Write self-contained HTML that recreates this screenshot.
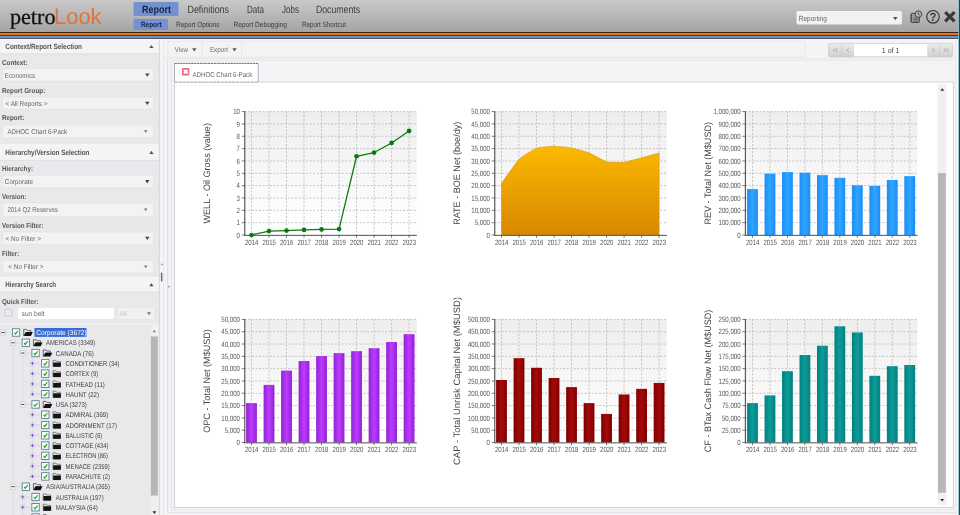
<!DOCTYPE html>
<html lang="en"><head><meta charset="utf-8"><title>petroLook - Report</title>
<style>
html,body{margin:0;padding:0;background:#f3f3f5;overflow:hidden;font-family:"Liberation Sans",sans-serif}
svg{display:block;position:absolute;left:0;top:0;will-change:transform}
</style></head><body>
<svg width="960" height="515" viewBox="0 0 960 515" text-rendering="geometricPrecision">
<defs>
<linearGradient id="hdr" x1="0" y1="0" x2="0" y2="1"><stop offset="0" stop-color="#c9c9c9"/><stop offset="1" stop-color="#a4a4a4"/></linearGradient>
<linearGradient id="plot" x1="0" y1="0" x2="0" y2="1"><stop offset="0" stop-color="#eeeeee"/><stop offset="0.82" stop-color="#fdfdfd"/><stop offset="1" stop-color="#ffffff"/></linearGradient>
<linearGradient id="area" x1="0" y1="0" x2="0" y2="1"><stop offset="0" stop-color="#fbb900"/><stop offset="1" stop-color="#d88800"/></linearGradient>
<linearGradient id="gblue" x1="0" y1="0" x2="1" y2="0"><stop offset="0" stop-color="#1c8cf8"/><stop offset="0.5" stop-color="#2ea6ff"/><stop offset="1" stop-color="#1c8cf8"/></linearGradient>
<linearGradient id="gpurple" x1="0" y1="0" x2="1" y2="0"><stop offset="0" stop-color="#9420d4"/><stop offset="0.5" stop-color="#ba3cff"/><stop offset="1" stop-color="#9420d4"/></linearGradient>
<linearGradient id="gred" x1="0" y1="0" x2="1" y2="0"><stop offset="0" stop-color="#800000"/><stop offset="0.5" stop-color="#a40a0a"/><stop offset="1" stop-color="#800000"/></linearGradient>
<linearGradient id="gteal" x1="0" y1="0" x2="1" y2="0"><stop offset="0" stop-color="#008080"/><stop offset="0.5" stop-color="#0d9c98"/><stop offset="1" stop-color="#008080"/></linearGradient>
<linearGradient id="btn" x1="0" y1="0" x2="0" y2="1"><stop offset="0" stop-color="#ececec"/><stop offset="1" stop-color="#cfcfcf"/></linearGradient>
</defs>
<rect x="0.00" y="0.00" width="960.00" height="515.00" fill="#f3f3f5" />
<rect x="0.00" y="0.00" width="960.00" height="32.00" fill="url(#hdr)" />
<rect x="0.00" y="32.00" width="960.00" height="1.00" fill="#47200a" />
<rect x="0.00" y="33.00" width="960.00" height="2.00" fill="#da7a22" />
<rect x="0.00" y="35.00" width="960.00" height="1.00" fill="#3a3a48" />
<rect x="0.00" y="36.00" width="960.00" height="2.00" fill="#7090c8" />
<rect x="0.00" y="38.00" width="960.00" height="1.00" fill="#52566a" />
<rect x="0.00" y="39.00" width="960.00" height="1.00" fill="#fafafb" />
<text x="9.90" y="23.50" font-family="Liberation Serif, serif" font-size="22" fill="#111" text-anchor="start" textLength="45.60" lengthAdjust="spacingAndGlyphs" stroke="#111" stroke-width="0.3">petro</text>
<text x="54.00" y="23.50" font-family="Liberation Sans, sans-serif" font-size="22.5" fill="#e2733a" text-anchor="start" textLength="47.60" lengthAdjust="spacingAndGlyphs" >Look</text>
<rect x="133.50" y="2.00" width="45.00" height="14.00" fill="#7191d2" rx="1.5" />
<text x="142.00" y="13.08" font-family="Liberation Sans, sans-serif" font-size="10.5" font-weight="bold" fill="#1c2340" text-anchor="start" textLength="29.00" lengthAdjust="spacingAndGlyphs" >Report</text>
<text x="187.50" y="13.08" font-family="Liberation Sans, sans-serif" font-size="10.5" fill="#3c3c3c" text-anchor="start" textLength="41.50" lengthAdjust="spacingAndGlyphs" >Definitions</text>
<text x="247.00" y="13.08" font-family="Liberation Sans, sans-serif" font-size="10.5" fill="#3c3c3c" text-anchor="start" textLength="17.00" lengthAdjust="spacingAndGlyphs" >Data</text>
<text x="282.00" y="13.08" font-family="Liberation Sans, sans-serif" font-size="10.5" fill="#3c3c3c" text-anchor="start" textLength="17.00" lengthAdjust="spacingAndGlyphs" >Jobs</text>
<text x="316.00" y="13.08" font-family="Liberation Sans, sans-serif" font-size="10.5" fill="#3c3c3c" text-anchor="start" textLength="44.00" lengthAdjust="spacingAndGlyphs" >Documents</text>
<rect x="133.50" y="18.80" width="34.50" height="11.20" fill="#7191d2" rx="1.5" />
<text x="141.00" y="27.40" font-family="Liberation Sans, sans-serif" font-size="7.5" font-weight="bold" fill="#1c2340" text-anchor="start" textLength="20.50" lengthAdjust="spacingAndGlyphs" >Report</text>
<text x="176.00" y="27.40" font-family="Liberation Sans, sans-serif" font-size="7.5" fill="#3a3a3a" text-anchor="start" textLength="43.40" lengthAdjust="spacingAndGlyphs" >Report Options</text>
<text x="233.50" y="27.40" font-family="Liberation Sans, sans-serif" font-size="7.5" fill="#3a3a3a" text-anchor="start" textLength="53.50" lengthAdjust="spacingAndGlyphs" >Report Debugging</text>
<text x="302.00" y="27.40" font-family="Liberation Sans, sans-serif" font-size="7.5" fill="#3a3a3a" text-anchor="start" textLength="44.00" lengthAdjust="spacingAndGlyphs" >Report Shortcut</text>
<rect x="796.50" y="10.90" width="105.40" height="13.50" fill="#f2f2f4" rx="1.5" />
<text x="798.80" y="21.10" font-family="Liberation Sans, sans-serif" font-size="7.5" fill="#666" text-anchor="start" textLength="28.20" lengthAdjust="spacingAndGlyphs" >Reporting</text>
<path d="M893.10 16.95L897.50 16.95L895.30 20.25Z" fill="#505050"/>
<g stroke="#404040" stroke-width="0.9"><rect x="911.2" y="13.4" width="8.2" height="9.1" rx="0.8" fill="#9c9c9c"/><path d="M910.0 15.2h2M910.0 17.2h2M910.0 19.2h2M910.0 21.2h2" stroke-width="0.8" fill="none"/><path d="M913.2 18.0h5.2M913.2 19.6h5.2M913.2 21.2h5.2" stroke-width="0.7" stroke="#555" fill="none"/></g>
<circle cx="918.4" cy="14.1" r="3.3" fill="#b8b8b8" stroke="#3c3c3c" stroke-width="0.95"/>
<path d="M918.4 12.2v2.1l1.4 0.9" fill="none" stroke="#333" stroke-width="0.85"/>
<circle cx="933.0" cy="16.8" r="6.3" fill="none" stroke="#333" stroke-width="1.15"/>
<text x="933.00" y="21.15" font-family="Liberation Sans, sans-serif" font-size="11.8" font-weight="bold" fill="#333" text-anchor="middle" textLength="6.85" lengthAdjust="spacingAndGlyphs" >?</text>
<path d="M945.2 12.1L954.5 21.4M954.5 12.1L945.2 21.4" stroke="#3a3a3a" stroke-width="3.3" stroke-linecap="butt"/>
<rect x="0.00" y="39.60" width="159.40" height="475.40" fill="#e9e9eb" />
<rect x="0.00" y="39.60" width="159.40" height="14.20" fill="#f4f4f6" />
<line x1="0.00" y1="53.80" x2="159.40" y2="53.80" stroke="#dcdce0" stroke-width="0.8" />
<line x1="0.00" y1="39.60" x2="159.40" y2="39.60" stroke="#fbfbfc" stroke-width="0.8" />
<text x="5.30" y="48.89" font-family="Liberation Sans, sans-serif" font-size="7.6" font-weight="bold" fill="#555" text-anchor="start" textLength="76.70" lengthAdjust="spacingAndGlyphs" >Context/Report Selection</text>
<path d="M149.30 48.10L153.50 48.10L151.40 44.90Z" fill="#555"/>
<text x="2.00" y="64.79" font-family="Liberation Sans, sans-serif" font-size="7.2" font-weight="bold" fill="#555" text-anchor="start" textLength="25.50" lengthAdjust="spacingAndGlyphs" >Context:</text>
<rect x="2.70" y="68.80" width="151.00" height="12.40" fill="#f3f3f5" stroke="#e1e1e4" stroke-width="0.6" rx="1.2" />
<text x="4.80" y="77.62" font-family="Liberation Sans, sans-serif" font-size="7.0" fill="#666" text-anchor="start" textLength="30.30" lengthAdjust="spacingAndGlyphs" >Economics</text>
<path d="M145.10 73.55L149.50 73.55L147.30 76.85Z" fill="#444"/>
<text x="2.00" y="92.59" font-family="Liberation Sans, sans-serif" font-size="7.2" font-weight="bold" fill="#555" text-anchor="start" textLength="43.30" lengthAdjust="spacingAndGlyphs" >Report Group:</text>
<rect x="2.70" y="97.00" width="151.00" height="12.20" fill="#f3f3f5" stroke="#e1e1e4" stroke-width="0.6" rx="1.2" />
<text x="5.50" y="105.72" font-family="Liberation Sans, sans-serif" font-size="7.0" fill="#666" text-anchor="start" textLength="42.00" lengthAdjust="spacingAndGlyphs" >&lt; All Reports &gt;</text>
<path d="M145.10 101.65L149.50 101.65L147.30 104.95Z" fill="#444"/>
<text x="2.00" y="120.39" font-family="Liberation Sans, sans-serif" font-size="7.2" font-weight="bold" fill="#555" text-anchor="start" textLength="22.30" lengthAdjust="spacingAndGlyphs" >Report:</text>
<rect x="2.70" y="125.00" width="151.00" height="13.00" fill="#f3f3f5" stroke="#e1e1e4" stroke-width="0.6" rx="1.2" />
<text x="7.40" y="134.12" font-family="Liberation Sans, sans-serif" font-size="7.0" fill="#666" text-anchor="start" textLength="59.60" lengthAdjust="spacingAndGlyphs" >ADHOC Chart 6-Pack</text>
<path d="M143.90 130.35L147.50 130.35L145.70 133.05Z" fill="#777"/>
<rect x="0.00" y="144.80" width="159.40" height="15.60" fill="#f4f4f6" />
<line x1="0.00" y1="160.40" x2="159.40" y2="160.40" stroke="#dcdce0" stroke-width="0.8" />
<line x1="0.00" y1="144.80" x2="159.40" y2="144.80" stroke="#fbfbfc" stroke-width="0.8" />
<text x="5.30" y="154.79" font-family="Liberation Sans, sans-serif" font-size="7.6" font-weight="bold" fill="#555" text-anchor="start" textLength="84.20" lengthAdjust="spacingAndGlyphs" >Hierarchy/Version Selection</text>
<path d="M149.30 154.00L153.50 154.00L151.40 150.80Z" fill="#555"/>
<text x="2.00" y="170.79" font-family="Liberation Sans, sans-serif" font-size="7.2" font-weight="bold" fill="#555" text-anchor="start" textLength="31.00" lengthAdjust="spacingAndGlyphs" >Hierarchy:</text>
<rect x="2.70" y="175.30" width="151.00" height="12.50" fill="#f3f3f5" stroke="#e1e1e4" stroke-width="0.6" rx="1.2" />
<text x="4.80" y="184.17" font-family="Liberation Sans, sans-serif" font-size="7.0" fill="#666" text-anchor="start" textLength="28.30" lengthAdjust="spacingAndGlyphs" >Corporate</text>
<path d="M145.10 180.10L149.50 180.10L147.30 183.40Z" fill="#444"/>
<text x="2.00" y="199.09" font-family="Liberation Sans, sans-serif" font-size="7.2" font-weight="bold" fill="#555" text-anchor="start" textLength="24.30" lengthAdjust="spacingAndGlyphs" >Version:</text>
<rect x="2.70" y="202.90" width="151.00" height="13.60" fill="#f3f3f5" stroke="#e1e1e4" stroke-width="0.6" rx="1.2" />
<text x="7.40" y="212.32" font-family="Liberation Sans, sans-serif" font-size="7.0" fill="#666" text-anchor="start" textLength="50.40" lengthAdjust="spacingAndGlyphs" >2014 Q2 Reserves</text>
<path d="M143.90 208.55L147.50 208.55L145.70 211.25Z" fill="#777"/>
<text x="2.00" y="227.99" font-family="Liberation Sans, sans-serif" font-size="7.2" font-weight="bold" fill="#555" text-anchor="start" textLength="41.60" lengthAdjust="spacingAndGlyphs" >Version Filter:</text>
<rect x="2.70" y="232.00" width="151.00" height="12.30" fill="#f3f3f5" stroke="#e1e1e4" stroke-width="0.6" rx="1.2" />
<text x="5.50" y="240.77" font-family="Liberation Sans, sans-serif" font-size="7.0" fill="#666" text-anchor="start" textLength="35.40" lengthAdjust="spacingAndGlyphs" >&lt; No Filter &gt;</text>
<path d="M145.10 236.70L149.50 236.70L147.30 240.00Z" fill="#444"/>
<text x="2.00" y="255.79" font-family="Liberation Sans, sans-serif" font-size="7.2" font-weight="bold" fill="#555" text-anchor="start" textLength="17.20" lengthAdjust="spacingAndGlyphs" >Filter:</text>
<rect x="2.70" y="260.30" width="151.00" height="12.90" fill="#f3f3f5" stroke="#e1e1e4" stroke-width="0.6" rx="1.2" />
<text x="8.20" y="269.37" font-family="Liberation Sans, sans-serif" font-size="7.0" fill="#666" text-anchor="start" textLength="35.40" lengthAdjust="spacingAndGlyphs" >&lt; No Filter &gt;</text>
<path d="M143.90 265.60L147.50 265.60L145.70 268.30Z" fill="#777"/>
<rect x="0.00" y="277.60" width="159.40" height="14.40" fill="#f4f4f6" />
<line x1="0.00" y1="292.00" x2="159.40" y2="292.00" stroke="#dcdce0" stroke-width="0.8" />
<line x1="0.00" y1="277.60" x2="159.40" y2="277.60" stroke="#fbfbfc" stroke-width="0.8" />
<text x="5.30" y="286.99" font-family="Liberation Sans, sans-serif" font-size="7.6" font-weight="bold" fill="#555" text-anchor="start" textLength="50.80" lengthAdjust="spacingAndGlyphs" >Hierarchy Search</text>
<path d="M149.30 286.20L153.50 286.20L151.40 283.00Z" fill="#555"/>
<text x="2.00" y="303.59" font-family="Liberation Sans, sans-serif" font-size="7.2" font-weight="bold" fill="#555" text-anchor="start" textLength="36.50" lengthAdjust="spacingAndGlyphs" >Quick Filter:</text>
<rect x="4.60" y="309.20" width="7.20" height="7.00" fill="#ececee" stroke="#c2c2c6" stroke-width="0.8" rx="1.2" />
<rect x="17.70" y="307.50" width="96.60" height="11.80" fill="#ffffff" stroke="#e4e4e8" stroke-width="0.6" rx="1.2" />
<text x="21.60" y="315.92" font-family="Liberation Sans, sans-serif" font-size="7.0" fill="#666" text-anchor="start" textLength="23.00" lengthAdjust="spacingAndGlyphs" >sun belt</text>
<rect x="117.40" y="307.50" width="37.30" height="11.80" fill="#f1f1f3" stroke="#e1e1e4" stroke-width="0.6" rx="1.2" />
<text x="119.60" y="315.92" font-family="Liberation Sans, sans-serif" font-size="7.0" fill="#c4c4c8" text-anchor="start" textLength="7.20" lengthAdjust="spacingAndGlyphs" >All</text>
<path d="M147.00 312.20L151.00 312.20L149.00 315.20Z" fill="#777"/>
<line x1="0.00" y1="324.40" x2="159.40" y2="324.40" stroke="#f3f3f5" stroke-width="1.0" />
<rect x="150.50" y="325.70" width="8.40" height="189.30" fill="#f0f0f0" />
<rect x="150.80" y="336.40" width="7.00" height="159.20" fill="#b6b6b6" />
<path d="M152.50 332.20L156.10 332.20L154.30 329.80Z" fill="#8a8a8a"/>
<path d="M152.40 511.30L156.40 511.30L154.40 513.90Z" fill="#333"/>
<line x1="12.95" y1="345.28" x2="12.95" y2="515.00" stroke="#d8d8de" stroke-width="0.8" />
<line x1="22.70" y1="355.56" x2="22.70" y2="401.96" stroke="#d8d8de" stroke-width="0.8" />
<line x1="22.70" y1="491.98" x2="22.70" y2="515.00" stroke="#d8d8de" stroke-width="0.8" />
<line x1="32.45" y1="358.34" x2="32.45" y2="394.18" stroke="#d8d8de" stroke-width="0.8" />
<line x1="32.45" y1="409.74" x2="32.45" y2="476.42" stroke="#d8d8de" stroke-width="0.8" />
<clipPath id="treeclip"><rect x="0" y="325.7" width="150.5" height="189.3"/></clipPath><g clip-path="url(#treeclip)">
<line x1="5.80" y1="332.50" x2="10.80" y2="332.50" stroke="#d2d2d8" stroke-width="0.8" />
<rect x="0.60" y="329.90" width="5.20" height="5.20" fill="#f6f6f6" stroke="#c6c6c6" stroke-width="0.7" rx="0.5" />
<line x1="1.60" y1="332.50" x2="4.80" y2="332.50" stroke="#444" stroke-width="1.0" />
<rect x="12.40" y="328.80" width="7.30" height="7.40" fill="#ffffff" stroke="#4a6c8c" stroke-width="0.8" />
<path d="M14.30 332.70L15.50 334.10L18.00 330.80" fill="none" stroke="#22aa22" stroke-width="1.25"/>
<path d="M23.70 335.80V329.40h2.9l0.9 1.1h3.3v2.0H25.80L23.70 335.80Z" fill="#e4e4e4" stroke="#3a3a3a" stroke-width="0.7" stroke-linejoin="round"/>
<path d="M23.90 336.00L25.90 332.10H32.80L30.90 336.00Z" fill="#111"/>
<rect x="34.50" y="328.00" width="52.00" height="8.90" fill="#3a6cd8" />
<text x="36.30" y="335.12" font-family="Liberation Sans, sans-serif" font-size="7.0" fill="#ffffff" text-anchor="start" textLength="50.40" lengthAdjust="spacingAndGlyphs" >Corporate (3672)</text>
<line x1="15.55" y1="342.78" x2="20.55" y2="342.78" stroke="#d2d2d8" stroke-width="0.8" />
<rect x="10.35" y="340.18" width="5.20" height="5.20" fill="#f6f6f6" stroke="#c6c6c6" stroke-width="0.7" rx="0.5" />
<line x1="11.35" y1="342.78" x2="14.55" y2="342.78" stroke="#444" stroke-width="1.0" />
<rect x="22.15" y="339.08" width="7.30" height="7.40" fill="#ffffff" stroke="#4a6c8c" stroke-width="0.8" />
<path d="M24.05 342.98L25.25 344.38L27.75 341.08" fill="none" stroke="#22aa22" stroke-width="1.25"/>
<path d="M33.45 346.08V339.68h2.9l0.9 1.1h3.3v2.0H35.55L33.45 346.08Z" fill="#e4e4e4" stroke="#3a3a3a" stroke-width="0.7" stroke-linejoin="round"/>
<path d="M33.65 346.28L35.65 342.38H42.55L40.65 346.28Z" fill="#111"/>
<text x="46.05" y="345.40" font-family="Liberation Sans, sans-serif" font-size="7.0" fill="#404040" text-anchor="start" textLength="49.20" lengthAdjust="spacingAndGlyphs" >AMERICAS (3349)</text>
<line x1="25.30" y1="353.06" x2="30.30" y2="353.06" stroke="#d2d2d8" stroke-width="0.8" />
<rect x="20.10" y="350.46" width="5.20" height="5.20" fill="#f6f6f6" stroke="#c6c6c6" stroke-width="0.7" rx="0.5" />
<line x1="21.10" y1="353.06" x2="24.30" y2="353.06" stroke="#444" stroke-width="1.0" />
<rect x="31.90" y="349.36" width="7.30" height="7.40" fill="#ffffff" stroke="#4a6c8c" stroke-width="0.8" />
<path d="M33.80 353.26L35.00 354.66L37.50 351.36" fill="none" stroke="#22aa22" stroke-width="1.25"/>
<path d="M43.20 356.36V349.96h2.9l0.9 1.1h3.3v2.0H45.30L43.20 356.36Z" fill="#e4e4e4" stroke="#3a3a3a" stroke-width="0.7" stroke-linejoin="round"/>
<path d="M43.40 356.56L45.40 352.66H52.30L50.40 356.56Z" fill="#111"/>
<text x="55.80" y="355.68" font-family="Liberation Sans, sans-serif" font-size="7.0" fill="#404040" text-anchor="start" textLength="37.90" lengthAdjust="spacingAndGlyphs" >CANADA (76)</text>
<line x1="35.05" y1="363.34" x2="40.05" y2="363.34" stroke="#d2d2d8" stroke-width="0.8" />
<rect x="30.05" y="360.94" width="4.80" height="4.80" fill="#ece8f8" stroke="#cfcfd6" stroke-width="0.6" rx="0.5" />
<line x1="30.95" y1="363.34" x2="33.95" y2="363.34" stroke="#7a52cc" stroke-width="1.0" />
<line x1="32.45" y1="361.84" x2="32.45" y2="364.84" stroke="#7a52cc" stroke-width="1.0" />
<rect x="41.65" y="359.64" width="7.30" height="7.40" fill="#ffffff" stroke="#4a6c8c" stroke-width="0.8" />
<path d="M43.55 363.54L44.75 364.94L47.25 361.64" fill="none" stroke="#22aa22" stroke-width="1.25"/>
<path d="M52.95 366.54V360.34h2.9l0.9 1.1h3.6V366.54Z" fill="#e4e4e4" stroke="#4a4a4a" stroke-width="0.6" stroke-linejoin="round"/>
<path d="M53.15 366.84V362.44H60.85V366.84Z" fill="#141414"/>
<text x="65.55" y="365.96" font-family="Liberation Sans, sans-serif" font-size="7.0" fill="#404040" text-anchor="start" textLength="54.00" lengthAdjust="spacingAndGlyphs" >CONDITIONER (34)</text>
<line x1="35.05" y1="373.62" x2="40.05" y2="373.62" stroke="#d2d2d8" stroke-width="0.8" />
<rect x="30.05" y="371.22" width="4.80" height="4.80" fill="#ece8f8" stroke="#cfcfd6" stroke-width="0.6" rx="0.5" />
<line x1="30.95" y1="373.62" x2="33.95" y2="373.62" stroke="#7a52cc" stroke-width="1.0" />
<line x1="32.45" y1="372.12" x2="32.45" y2="375.12" stroke="#7a52cc" stroke-width="1.0" />
<rect x="41.65" y="369.92" width="7.30" height="7.40" fill="#ffffff" stroke="#4a6c8c" stroke-width="0.8" />
<path d="M43.55 373.82L44.75 375.22L47.25 371.92" fill="none" stroke="#22aa22" stroke-width="1.25"/>
<path d="M52.95 376.82V370.62h2.9l0.9 1.1h3.6V376.82Z" fill="#e4e4e4" stroke="#4a4a4a" stroke-width="0.6" stroke-linejoin="round"/>
<path d="M53.15 377.12V372.72H60.85V377.12Z" fill="#141414"/>
<text x="65.55" y="376.24" font-family="Liberation Sans, sans-serif" font-size="7.0" fill="#404040" text-anchor="start" textLength="32.50" lengthAdjust="spacingAndGlyphs" >CORTEX (9)</text>
<line x1="35.05" y1="383.90" x2="40.05" y2="383.90" stroke="#d2d2d8" stroke-width="0.8" />
<rect x="30.05" y="381.50" width="4.80" height="4.80" fill="#ece8f8" stroke="#cfcfd6" stroke-width="0.6" rx="0.5" />
<line x1="30.95" y1="383.90" x2="33.95" y2="383.90" stroke="#7a52cc" stroke-width="1.0" />
<line x1="32.45" y1="382.40" x2="32.45" y2="385.40" stroke="#7a52cc" stroke-width="1.0" />
<rect x="41.65" y="380.20" width="7.30" height="7.40" fill="#ffffff" stroke="#4a6c8c" stroke-width="0.8" />
<path d="M43.55 384.10L44.75 385.50L47.25 382.20" fill="none" stroke="#22aa22" stroke-width="1.25"/>
<path d="M52.95 387.10V380.90h2.9l0.9 1.1h3.6V387.10Z" fill="#e4e4e4" stroke="#4a4a4a" stroke-width="0.6" stroke-linejoin="round"/>
<path d="M53.15 387.40V383.00H60.85V387.40Z" fill="#141414"/>
<text x="65.55" y="386.52" font-family="Liberation Sans, sans-serif" font-size="7.0" fill="#404040" text-anchor="start" textLength="39.30" lengthAdjust="spacingAndGlyphs" >FATHEAD (11)</text>
<line x1="35.05" y1="394.18" x2="40.05" y2="394.18" stroke="#d2d2d8" stroke-width="0.8" />
<rect x="30.05" y="391.78" width="4.80" height="4.80" fill="#ece8f8" stroke="#cfcfd6" stroke-width="0.6" rx="0.5" />
<line x1="30.95" y1="394.18" x2="33.95" y2="394.18" stroke="#7a52cc" stroke-width="1.0" />
<line x1="32.45" y1="392.68" x2="32.45" y2="395.68" stroke="#7a52cc" stroke-width="1.0" />
<rect x="41.65" y="390.48" width="7.30" height="7.40" fill="#ffffff" stroke="#4a6c8c" stroke-width="0.8" />
<path d="M43.55 394.38L44.75 395.78L47.25 392.48" fill="none" stroke="#22aa22" stroke-width="1.25"/>
<path d="M52.95 397.38V391.18h2.9l0.9 1.1h3.6V397.38Z" fill="#e4e4e4" stroke="#4a4a4a" stroke-width="0.6" stroke-linejoin="round"/>
<path d="M53.15 397.68V393.28H60.85V397.68Z" fill="#141414"/>
<text x="65.55" y="396.80" font-family="Liberation Sans, sans-serif" font-size="7.0" fill="#404040" text-anchor="start" textLength="33.50" lengthAdjust="spacingAndGlyphs" >HAUNT (22)</text>
<line x1="25.30" y1="404.46" x2="30.30" y2="404.46" stroke="#d2d2d8" stroke-width="0.8" />
<rect x="20.10" y="401.86" width="5.20" height="5.20" fill="#f6f6f6" stroke="#c6c6c6" stroke-width="0.7" rx="0.5" />
<line x1="21.10" y1="404.46" x2="24.30" y2="404.46" stroke="#444" stroke-width="1.0" />
<rect x="31.90" y="400.76" width="7.30" height="7.40" fill="#ffffff" stroke="#4a6c8c" stroke-width="0.8" />
<path d="M33.80 404.66L35.00 406.06L37.50 402.76" fill="none" stroke="#22aa22" stroke-width="1.25"/>
<path d="M43.20 407.76V401.36h2.9l0.9 1.1h3.3v2.0H45.30L43.20 407.76Z" fill="#e4e4e4" stroke="#3a3a3a" stroke-width="0.7" stroke-linejoin="round"/>
<path d="M43.40 407.96L45.40 404.06H52.30L50.40 407.96Z" fill="#111"/>
<text x="55.80" y="407.08" font-family="Liberation Sans, sans-serif" font-size="7.0" fill="#404040" text-anchor="start" textLength="31.00" lengthAdjust="spacingAndGlyphs" >USA (3273)</text>
<line x1="35.05" y1="414.74" x2="40.05" y2="414.74" stroke="#d2d2d8" stroke-width="0.8" />
<rect x="30.05" y="412.34" width="4.80" height="4.80" fill="#ece8f8" stroke="#cfcfd6" stroke-width="0.6" rx="0.5" />
<line x1="30.95" y1="414.74" x2="33.95" y2="414.74" stroke="#7a52cc" stroke-width="1.0" />
<line x1="32.45" y1="413.24" x2="32.45" y2="416.24" stroke="#7a52cc" stroke-width="1.0" />
<rect x="41.65" y="411.04" width="7.30" height="7.40" fill="#ffffff" stroke="#4a6c8c" stroke-width="0.8" />
<path d="M43.55 414.94L44.75 416.34L47.25 413.04" fill="none" stroke="#22aa22" stroke-width="1.25"/>
<path d="M52.95 417.94V411.74h2.9l0.9 1.1h3.6V417.94Z" fill="#e4e4e4" stroke="#4a4a4a" stroke-width="0.6" stroke-linejoin="round"/>
<path d="M53.15 418.24V413.84H60.85V418.24Z" fill="#141414"/>
<text x="65.55" y="417.36" font-family="Liberation Sans, sans-serif" font-size="7.0" fill="#404040" text-anchor="start" textLength="42.70" lengthAdjust="spacingAndGlyphs" >ADMIRAL (369)</text>
<line x1="35.05" y1="425.02" x2="40.05" y2="425.02" stroke="#d2d2d8" stroke-width="0.8" />
<rect x="30.05" y="422.62" width="4.80" height="4.80" fill="#ece8f8" stroke="#cfcfd6" stroke-width="0.6" rx="0.5" />
<line x1="30.95" y1="425.02" x2="33.95" y2="425.02" stroke="#7a52cc" stroke-width="1.0" />
<line x1="32.45" y1="423.52" x2="32.45" y2="426.52" stroke="#7a52cc" stroke-width="1.0" />
<rect x="41.65" y="421.32" width="7.30" height="7.40" fill="#ffffff" stroke="#4a6c8c" stroke-width="0.8" />
<path d="M43.55 425.22L44.75 426.62L47.25 423.32" fill="none" stroke="#22aa22" stroke-width="1.25"/>
<path d="M52.95 428.22V422.02h2.9l0.9 1.1h3.6V428.22Z" fill="#e4e4e4" stroke="#4a4a4a" stroke-width="0.6" stroke-linejoin="round"/>
<path d="M53.15 428.52V424.12H60.85V428.52Z" fill="#141414"/>
<text x="65.55" y="427.64" font-family="Liberation Sans, sans-serif" font-size="7.0" fill="#404040" text-anchor="start" textLength="51.40" lengthAdjust="spacingAndGlyphs" >ADORNMENT (17)</text>
<line x1="35.05" y1="435.30" x2="40.05" y2="435.30" stroke="#d2d2d8" stroke-width="0.8" />
<rect x="30.05" y="432.90" width="4.80" height="4.80" fill="#ece8f8" stroke="#cfcfd6" stroke-width="0.6" rx="0.5" />
<line x1="30.95" y1="435.30" x2="33.95" y2="435.30" stroke="#7a52cc" stroke-width="1.0" />
<line x1="32.45" y1="433.80" x2="32.45" y2="436.80" stroke="#7a52cc" stroke-width="1.0" />
<rect x="41.65" y="431.60" width="7.30" height="7.40" fill="#ffffff" stroke="#4a6c8c" stroke-width="0.8" />
<path d="M43.55 435.50L44.75 436.90L47.25 433.60" fill="none" stroke="#22aa22" stroke-width="1.25"/>
<path d="M52.95 438.50V432.30h2.9l0.9 1.1h3.6V438.50Z" fill="#e4e4e4" stroke="#4a4a4a" stroke-width="0.6" stroke-linejoin="round"/>
<path d="M53.15 438.80V434.40H60.85V438.80Z" fill="#141414"/>
<text x="65.55" y="437.92" font-family="Liberation Sans, sans-serif" font-size="7.0" fill="#404040" text-anchor="start" textLength="36.70" lengthAdjust="spacingAndGlyphs" >BALLISTIC (6)</text>
<line x1="35.05" y1="445.58" x2="40.05" y2="445.58" stroke="#d2d2d8" stroke-width="0.8" />
<rect x="30.05" y="443.18" width="4.80" height="4.80" fill="#ece8f8" stroke="#cfcfd6" stroke-width="0.6" rx="0.5" />
<line x1="30.95" y1="445.58" x2="33.95" y2="445.58" stroke="#7a52cc" stroke-width="1.0" />
<line x1="32.45" y1="444.08" x2="32.45" y2="447.08" stroke="#7a52cc" stroke-width="1.0" />
<rect x="41.65" y="441.88" width="7.30" height="7.40" fill="#ffffff" stroke="#4a6c8c" stroke-width="0.8" />
<path d="M43.55 445.78L44.75 447.18L47.25 443.88" fill="none" stroke="#22aa22" stroke-width="1.25"/>
<path d="M52.95 448.78V442.58h2.9l0.9 1.1h3.6V448.78Z" fill="#e4e4e4" stroke="#4a4a4a" stroke-width="0.6" stroke-linejoin="round"/>
<path d="M53.15 449.08V444.68H60.85V449.08Z" fill="#141414"/>
<text x="65.55" y="448.20" font-family="Liberation Sans, sans-serif" font-size="7.0" fill="#404040" text-anchor="start" textLength="43.00" lengthAdjust="spacingAndGlyphs" >COTTAGE (434)</text>
<line x1="35.05" y1="455.86" x2="40.05" y2="455.86" stroke="#d2d2d8" stroke-width="0.8" />
<rect x="30.05" y="453.46" width="4.80" height="4.80" fill="#ece8f8" stroke="#cfcfd6" stroke-width="0.6" rx="0.5" />
<line x1="30.95" y1="455.86" x2="33.95" y2="455.86" stroke="#7a52cc" stroke-width="1.0" />
<line x1="32.45" y1="454.36" x2="32.45" y2="457.36" stroke="#7a52cc" stroke-width="1.0" />
<rect x="41.65" y="452.16" width="7.30" height="7.40" fill="#ffffff" stroke="#4a6c8c" stroke-width="0.8" />
<path d="M43.55 456.06L44.75 457.46L47.25 454.16" fill="none" stroke="#22aa22" stroke-width="1.25"/>
<path d="M52.95 459.06V452.86h2.9l0.9 1.1h3.6V459.06Z" fill="#e4e4e4" stroke="#4a4a4a" stroke-width="0.6" stroke-linejoin="round"/>
<path d="M53.15 459.36V454.96H60.85V459.36Z" fill="#141414"/>
<text x="65.55" y="458.48" font-family="Liberation Sans, sans-serif" font-size="7.0" fill="#404040" text-anchor="start" textLength="42.30" lengthAdjust="spacingAndGlyphs" >ELECTRON (86)</text>
<line x1="35.05" y1="466.14" x2="40.05" y2="466.14" stroke="#d2d2d8" stroke-width="0.8" />
<rect x="30.05" y="463.74" width="4.80" height="4.80" fill="#ece8f8" stroke="#cfcfd6" stroke-width="0.6" rx="0.5" />
<line x1="30.95" y1="466.14" x2="33.95" y2="466.14" stroke="#7a52cc" stroke-width="1.0" />
<line x1="32.45" y1="464.64" x2="32.45" y2="467.64" stroke="#7a52cc" stroke-width="1.0" />
<rect x="41.65" y="462.44" width="7.30" height="7.40" fill="#ffffff" stroke="#4a6c8c" stroke-width="0.8" />
<path d="M43.55 466.34L44.75 467.74L47.25 464.44" fill="none" stroke="#22aa22" stroke-width="1.25"/>
<path d="M52.95 469.34V463.14h2.9l0.9 1.1h3.6V469.34Z" fill="#e4e4e4" stroke="#4a4a4a" stroke-width="0.6" stroke-linejoin="round"/>
<path d="M53.15 469.64V465.24H60.85V469.64Z" fill="#141414"/>
<text x="65.55" y="468.76" font-family="Liberation Sans, sans-serif" font-size="7.0" fill="#404040" text-anchor="start" textLength="44.30" lengthAdjust="spacingAndGlyphs" >MENACE (2359)</text>
<line x1="35.05" y1="476.42" x2="40.05" y2="476.42" stroke="#d2d2d8" stroke-width="0.8" />
<rect x="30.05" y="474.02" width="4.80" height="4.80" fill="#ece8f8" stroke="#cfcfd6" stroke-width="0.6" rx="0.5" />
<line x1="30.95" y1="476.42" x2="33.95" y2="476.42" stroke="#7a52cc" stroke-width="1.0" />
<line x1="32.45" y1="474.92" x2="32.45" y2="477.92" stroke="#7a52cc" stroke-width="1.0" />
<rect x="41.65" y="472.72" width="7.30" height="7.40" fill="#ffffff" stroke="#4a6c8c" stroke-width="0.8" />
<path d="M43.55 476.62L44.75 478.02L47.25 474.72" fill="none" stroke="#22aa22" stroke-width="1.25"/>
<path d="M52.95 479.62V473.42h2.9l0.9 1.1h3.6V479.62Z" fill="#e4e4e4" stroke="#4a4a4a" stroke-width="0.6" stroke-linejoin="round"/>
<path d="M53.15 479.92V475.52H60.85V479.92Z" fill="#141414"/>
<text x="65.55" y="479.04" font-family="Liberation Sans, sans-serif" font-size="7.0" fill="#404040" text-anchor="start" textLength="44.30" lengthAdjust="spacingAndGlyphs" >PARACHUTE (2)</text>
<line x1="15.55" y1="486.70" x2="20.55" y2="486.70" stroke="#d2d2d8" stroke-width="0.8" />
<rect x="10.35" y="484.10" width="5.20" height="5.20" fill="#f6f6f6" stroke="#c6c6c6" stroke-width="0.7" rx="0.5" />
<line x1="11.35" y1="486.70" x2="14.55" y2="486.70" stroke="#444" stroke-width="1.0" />
<rect x="22.15" y="483.00" width="7.30" height="7.40" fill="#ffffff" stroke="#4a6c8c" stroke-width="0.8" />
<path d="M24.05 486.90L25.25 488.30L27.75 485.00" fill="none" stroke="#22aa22" stroke-width="1.25"/>
<path d="M33.45 490.00V483.60h2.9l0.9 1.1h3.3v2.0H35.55L33.45 490.00Z" fill="#e4e4e4" stroke="#3a3a3a" stroke-width="0.7" stroke-linejoin="round"/>
<path d="M33.65 490.20L35.65 486.30H42.55L40.65 490.20Z" fill="#111"/>
<text x="46.05" y="489.32" font-family="Liberation Sans, sans-serif" font-size="7.0" fill="#404040" text-anchor="start" textLength="63.90" lengthAdjust="spacingAndGlyphs" >ASIA/AUSTRALIA (265)</text>
<line x1="25.30" y1="496.98" x2="30.30" y2="496.98" stroke="#d2d2d8" stroke-width="0.8" />
<rect x="20.30" y="494.58" width="4.80" height="4.80" fill="#ece8f8" stroke="#cfcfd6" stroke-width="0.6" rx="0.5" />
<line x1="21.20" y1="496.98" x2="24.20" y2="496.98" stroke="#7a52cc" stroke-width="1.0" />
<line x1="22.70" y1="495.48" x2="22.70" y2="498.48" stroke="#7a52cc" stroke-width="1.0" />
<rect x="31.90" y="493.28" width="7.30" height="7.40" fill="#ffffff" stroke="#4a6c8c" stroke-width="0.8" />
<path d="M33.80 497.18L35.00 498.58L37.50 495.28" fill="none" stroke="#22aa22" stroke-width="1.25"/>
<path d="M43.20 500.18V493.98h2.9l0.9 1.1h3.6V500.18Z" fill="#e4e4e4" stroke="#4a4a4a" stroke-width="0.6" stroke-linejoin="round"/>
<path d="M43.40 500.48V496.08H51.10V500.48Z" fill="#141414"/>
<text x="55.80" y="499.60" font-family="Liberation Sans, sans-serif" font-size="7.0" fill="#404040" text-anchor="start" textLength="47.80" lengthAdjust="spacingAndGlyphs" >AUSTRALIA (197)</text>
<line x1="25.30" y1="507.26" x2="30.30" y2="507.26" stroke="#d2d2d8" stroke-width="0.8" />
<rect x="20.30" y="504.86" width="4.80" height="4.80" fill="#ece8f8" stroke="#cfcfd6" stroke-width="0.6" rx="0.5" />
<line x1="21.20" y1="507.26" x2="24.20" y2="507.26" stroke="#7a52cc" stroke-width="1.0" />
<line x1="22.70" y1="505.76" x2="22.70" y2="508.76" stroke="#7a52cc" stroke-width="1.0" />
<rect x="31.90" y="503.56" width="7.30" height="7.40" fill="#ffffff" stroke="#4a6c8c" stroke-width="0.8" />
<path d="M33.80 507.46L35.00 508.86L37.50 505.56" fill="none" stroke="#22aa22" stroke-width="1.25"/>
<path d="M43.20 510.46V504.26h2.9l0.9 1.1h3.6V510.46Z" fill="#e4e4e4" stroke="#4a4a4a" stroke-width="0.6" stroke-linejoin="round"/>
<path d="M43.40 510.76V506.36H51.10V510.76Z" fill="#141414"/>
<text x="55.80" y="509.88" font-family="Liberation Sans, sans-serif" font-size="7.0" fill="#404040" text-anchor="start" textLength="42.00" lengthAdjust="spacingAndGlyphs" >MALAYSIA (64)</text>
<line x1="25.30" y1="517.54" x2="30.30" y2="517.54" stroke="#d2d2d8" stroke-width="0.8" />
<rect x="20.30" y="515.14" width="4.80" height="4.80" fill="#ece8f8" stroke="#cfcfd6" stroke-width="0.6" rx="0.5" />
<line x1="21.20" y1="517.54" x2="24.20" y2="517.54" stroke="#7a52cc" stroke-width="1.0" />
<line x1="22.70" y1="516.04" x2="22.70" y2="519.04" stroke="#7a52cc" stroke-width="1.0" />
<rect x="31.90" y="513.84" width="7.30" height="7.40" fill="#ffffff" stroke="#4a6c8c" stroke-width="0.8" />
<path d="M33.80 517.74L35.00 519.14L37.50 515.84" fill="none" stroke="#22aa22" stroke-width="1.25"/>
<path d="M43.20 520.74V514.54h2.9l0.9 1.1h3.6V520.74Z" fill="#e4e4e4" stroke="#4a4a4a" stroke-width="0.6" stroke-linejoin="round"/>
<path d="M43.40 521.04V516.64H51.10V521.04Z" fill="#141414"/>
</g>
<line x1="159.40" y1="39.60" x2="159.40" y2="515.00" stroke="#d8d8dc" stroke-width="0.8" />
<rect x="159.60" y="39.60" width="3.90" height="475.40" fill="#f6f6f8" />
<line x1="159.60" y1="39.60" x2="159.60" y2="515.00" stroke="#d0d0d6" stroke-width="0.7" />
<rect x="160.90" y="272.50" width="1.50" height="9.10" fill="#6e6e6e" rx="0.7" />
<path d="M162.6 263.2L160.8 264.4L162.6 265.6Z" fill="#8a8a8a"/>
<line x1="163.70" y1="39.60" x2="163.70" y2="515.00" stroke="#dcdce2" stroke-width="0.7" />
<rect x="164.10" y="39.60" width="794.00" height="475.40" fill="#f4f4f6" />
<line x1="167.60" y1="58.50" x2="167.60" y2="513.00" stroke="#d6d6de" stroke-width="0.8" />
<path d="M168.4 285.5L170.0 286.7L168.4 287.9Z" fill="#8a8a8a"/>
<line x1="171.30" y1="60.50" x2="171.30" y2="510.20" stroke="#dedee4" stroke-width="0.7" />
<line x1="167.60" y1="512.60" x2="958.00" y2="512.60" stroke="#dadae0" stroke-width="0.8" />
<line x1="171.30" y1="510.00" x2="955.50" y2="510.00" stroke="#e0e0e6" stroke-width="0.7" />
<rect x="167.70" y="41.30" width="637.30" height="15.90" fill="#f3f3f5" stroke="#e2e2e6" stroke-width="0.7" rx="1" />
<text x="174.80" y="52.19" font-family="Liberation Sans, sans-serif" font-size="7.2" fill="#707070" text-anchor="start" textLength="13.20" lengthAdjust="spacingAndGlyphs" >View</text>
<path d="M192.15 48.15L196.45 48.15L194.30 51.45Z" fill="#555"/>
<line x1="202.20" y1="41.80" x2="202.20" y2="56.80" stroke="#e2e2e6" stroke-width="0.7" />
<text x="209.90" y="52.19" font-family="Liberation Sans, sans-serif" font-size="7.2" fill="#707070" text-anchor="start" textLength="18.20" lengthAdjust="spacingAndGlyphs" >Export</text>
<path d="M232.35 48.15L236.65 48.15L234.50 51.45Z" fill="#555"/>
<line x1="241.70" y1="41.80" x2="241.70" y2="56.80" stroke="#e2e2e6" stroke-width="0.7" />
<line x1="164.10" y1="58.60" x2="958.00" y2="58.60" stroke="#e4e4e8" stroke-width="0.7" />
<rect x="828.60" y="43.40" width="124.00" height="13.50" fill="url(#btn)" stroke="#c8c8c8" stroke-width="0.7" rx="1.5" />
<rect x="854.10" y="43.90" width="73.10" height="12.50" fill="#ffffff" />
<line x1="841.70" y1="43.60" x2="841.70" y2="56.70" stroke="#c4c4c4" stroke-width="0.6" />
<line x1="939.60" y1="43.60" x2="939.60" y2="56.70" stroke="#c4c4c4" stroke-width="0.6" />
<path d="M834.90 48.30L833.10 50.20L834.90 52.10" fill="none" stroke="#9a9a9a" stroke-width="0.8"/>
<path d="M837.50 48.30L835.70 50.20L837.50 52.10" fill="none" stroke="#9a9a9a" stroke-width="0.8"/>
<path d="M848.80 48.30L847.00 50.20L848.80 52.10" fill="none" stroke="#9a9a9a" stroke-width="0.8"/>
<path d="M932.50 48.30L934.30 50.20L932.50 52.10" fill="none" stroke="#9a9a9a" stroke-width="0.8"/>
<path d="M943.90 48.30L945.70 50.20L943.90 52.10" fill="none" stroke="#9a9a9a" stroke-width="0.8"/>
<path d="M946.50 48.30L948.30 50.20L946.50 52.10" fill="none" stroke="#9a9a9a" stroke-width="0.8"/>
<text x="890.60" y="52.94" font-family="Liberation Sans, sans-serif" font-size="7.6" fill="#444" text-anchor="middle" textLength="17.50" lengthAdjust="spacingAndGlyphs" >1 of 1</text>
<line x1="171.30" y1="60.40" x2="955.50" y2="60.40" stroke="#e4e4e8" stroke-width="0.7" />
<rect x="174.50" y="82.00" width="778.80" height="425.60" fill="#ffffff" stroke="#c9c9d2" stroke-width="0.8" />
<rect x="174.50" y="63.40" width="83.60" height="19.20" fill="#ffffff" />
<line x1="174.50" y1="63.40" x2="174.50" y2="82.00" stroke="#9c9ca6" stroke-width="0.8" />
<line x1="258.20" y1="63.40" x2="258.20" y2="82.00" stroke="#9c9ca6" stroke-width="0.8" />
<line x1="174.50" y1="63.40" x2="258.20" y2="63.40" stroke="#5c5c66" stroke-width="0.9" stroke-dasharray="2.2 0.6" />
<line x1="175.00" y1="82.10" x2="257.80" y2="82.10" stroke="#8c8c96" stroke-width="0.8" stroke-dasharray="3.2 0.6" />
<line x1="176.00" y1="85.60" x2="258.00" y2="85.60" stroke="#ececf2" stroke-width="0.7" stroke-dasharray="1.5 1" />
<rect x="182.00" y="68.10" width="7.30" height="7.40" fill="#e66c88" rx="0.4" />
<path d="M183.8 69.9L187.6 73.7M187.6 69.9L183.8 73.7" stroke="#ffffff" stroke-width="1.7"/>
<text x="192.50" y="76.52" font-family="Liberation Sans, sans-serif" font-size="7.0" fill="#666" text-anchor="start" textLength="59.70" lengthAdjust="spacingAndGlyphs" >ADHOC Chart 6-Pack</text>
<rect x="937.40" y="84.20" width="9.20" height="421.10" fill="#f0f0f0" />
<rect x="938.00" y="173.10" width="7.80" height="319.60" fill="#b6b6b6" />
<path d="M940.30 90.80L944.30 90.80L942.30 88.20Z" fill="#333"/>
<path d="M940.20 499.00L944.20 499.00L942.20 501.60Z" fill="#333"/>
<rect x="955.60" y="40.00" width="2.60" height="475.00" fill="#f8f8fa" />
<line x1="955.90" y1="40.00" x2="955.90" y2="515.00" stroke="#dedee4" stroke-width="0.7" />
<rect x="958.20" y="0.00" width="0.80" height="515.00" fill="#8fd0e8" />
<rect x="958.90" y="0.00" width="1.10" height="515.00" fill="#3c3c3c" />
<rect x="244.75" y="111.60" width="172.15" height="123.40" fill="url(#plot)" />
<line x1="244.75" y1="222.66" x2="416.90" y2="222.66" stroke="#b2b2b2" stroke-width="0.75" stroke-dasharray="1.9 1.7" />
<line x1="244.75" y1="210.32" x2="416.90" y2="210.32" stroke="#b2b2b2" stroke-width="0.75" stroke-dasharray="1.9 1.7" />
<line x1="244.75" y1="197.98" x2="416.90" y2="197.98" stroke="#b2b2b2" stroke-width="0.75" stroke-dasharray="1.9 1.7" />
<line x1="244.75" y1="185.64" x2="416.90" y2="185.64" stroke="#b2b2b2" stroke-width="0.75" stroke-dasharray="1.9 1.7" />
<line x1="244.75" y1="173.30" x2="416.90" y2="173.30" stroke="#b2b2b2" stroke-width="0.75" stroke-dasharray="1.9 1.7" />
<line x1="244.75" y1="160.96" x2="416.90" y2="160.96" stroke="#b2b2b2" stroke-width="0.75" stroke-dasharray="1.9 1.7" />
<line x1="244.75" y1="148.62" x2="416.90" y2="148.62" stroke="#b2b2b2" stroke-width="0.75" stroke-dasharray="1.9 1.7" />
<line x1="244.75" y1="136.28" x2="416.90" y2="136.28" stroke="#b2b2b2" stroke-width="0.75" stroke-dasharray="1.9 1.7" />
<line x1="244.75" y1="123.94" x2="416.90" y2="123.94" stroke="#b2b2b2" stroke-width="0.75" stroke-dasharray="1.9 1.7" />
<line x1="244.75" y1="111.60" x2="416.90" y2="111.60" stroke="#b2b2b2" stroke-width="0.75" stroke-dasharray="1.9 1.7" />
<line x1="251.50" y1="111.60" x2="251.50" y2="235.00" stroke="#b2b2b2" stroke-width="0.75" stroke-dasharray="1.9 1.7" />
<line x1="269.01" y1="111.60" x2="269.01" y2="235.00" stroke="#b2b2b2" stroke-width="0.75" stroke-dasharray="1.9 1.7" />
<line x1="286.52" y1="111.60" x2="286.52" y2="235.00" stroke="#b2b2b2" stroke-width="0.75" stroke-dasharray="1.9 1.7" />
<line x1="304.03" y1="111.60" x2="304.03" y2="235.00" stroke="#b2b2b2" stroke-width="0.75" stroke-dasharray="1.9 1.7" />
<line x1="321.54" y1="111.60" x2="321.54" y2="235.00" stroke="#b2b2b2" stroke-width="0.75" stroke-dasharray="1.9 1.7" />
<line x1="339.05" y1="111.60" x2="339.05" y2="235.00" stroke="#b2b2b2" stroke-width="0.75" stroke-dasharray="1.9 1.7" />
<line x1="356.56" y1="111.60" x2="356.56" y2="235.00" stroke="#b2b2b2" stroke-width="0.75" stroke-dasharray="1.9 1.7" />
<line x1="374.07" y1="111.60" x2="374.07" y2="235.00" stroke="#b2b2b2" stroke-width="0.75" stroke-dasharray="1.9 1.7" />
<line x1="391.58" y1="111.60" x2="391.58" y2="235.00" stroke="#b2b2b2" stroke-width="0.75" stroke-dasharray="1.9 1.7" />
<line x1="409.09" y1="111.60" x2="409.09" y2="235.00" stroke="#b2b2b2" stroke-width="0.75" stroke-dasharray="1.9 1.7" />
<line x1="244.75" y1="111.30" x2="244.75" y2="235.50" stroke="#555" stroke-width="1.15" />
<line x1="244.25" y1="235.35" x2="416.90" y2="235.35" stroke="#505050" stroke-width="1.0" />
<line x1="241.75" y1="235.00" x2="244.75" y2="235.00" stroke="#555" stroke-width="0.8" />
<text x="239.95" y="237.67" font-family="Liberation Sans, sans-serif" font-size="7.7" fill="#555" text-anchor="end" textLength="3.38" lengthAdjust="spacingAndGlyphs" >0</text>
<line x1="241.75" y1="222.66" x2="244.75" y2="222.66" stroke="#555" stroke-width="0.8" />
<text x="239.95" y="225.33" font-family="Liberation Sans, sans-serif" font-size="7.7" fill="#555" text-anchor="end" textLength="3.38" lengthAdjust="spacingAndGlyphs" >1</text>
<line x1="241.75" y1="210.32" x2="244.75" y2="210.32" stroke="#555" stroke-width="0.8" />
<text x="239.95" y="212.99" font-family="Liberation Sans, sans-serif" font-size="7.7" fill="#555" text-anchor="end" textLength="3.38" lengthAdjust="spacingAndGlyphs" >2</text>
<line x1="241.75" y1="197.98" x2="244.75" y2="197.98" stroke="#555" stroke-width="0.8" />
<text x="239.95" y="200.65" font-family="Liberation Sans, sans-serif" font-size="7.7" fill="#555" text-anchor="end" textLength="3.38" lengthAdjust="spacingAndGlyphs" >3</text>
<line x1="241.75" y1="185.64" x2="244.75" y2="185.64" stroke="#555" stroke-width="0.8" />
<text x="239.95" y="188.31" font-family="Liberation Sans, sans-serif" font-size="7.7" fill="#555" text-anchor="end" textLength="3.38" lengthAdjust="spacingAndGlyphs" >4</text>
<line x1="241.75" y1="173.30" x2="244.75" y2="173.30" stroke="#555" stroke-width="0.8" />
<text x="239.95" y="175.97" font-family="Liberation Sans, sans-serif" font-size="7.7" fill="#555" text-anchor="end" textLength="3.38" lengthAdjust="spacingAndGlyphs" >5</text>
<line x1="241.75" y1="160.96" x2="244.75" y2="160.96" stroke="#555" stroke-width="0.8" />
<text x="239.95" y="163.63" font-family="Liberation Sans, sans-serif" font-size="7.7" fill="#555" text-anchor="end" textLength="3.38" lengthAdjust="spacingAndGlyphs" >6</text>
<line x1="241.75" y1="148.62" x2="244.75" y2="148.62" stroke="#555" stroke-width="0.8" />
<text x="239.95" y="151.29" font-family="Liberation Sans, sans-serif" font-size="7.7" fill="#555" text-anchor="end" textLength="3.38" lengthAdjust="spacingAndGlyphs" >7</text>
<line x1="241.75" y1="136.28" x2="244.75" y2="136.28" stroke="#555" stroke-width="0.8" />
<text x="239.95" y="138.95" font-family="Liberation Sans, sans-serif" font-size="7.7" fill="#555" text-anchor="end" textLength="3.38" lengthAdjust="spacingAndGlyphs" >8</text>
<line x1="241.75" y1="123.94" x2="244.75" y2="123.94" stroke="#555" stroke-width="0.8" />
<text x="239.95" y="126.61" font-family="Liberation Sans, sans-serif" font-size="7.7" fill="#555" text-anchor="end" textLength="3.38" lengthAdjust="spacingAndGlyphs" >9</text>
<line x1="241.75" y1="111.60" x2="244.75" y2="111.60" stroke="#555" stroke-width="0.8" />
<text x="239.95" y="114.27" font-family="Liberation Sans, sans-serif" font-size="7.7" fill="#555" text-anchor="end" textLength="6.77" lengthAdjust="spacingAndGlyphs" >10</text>
<line x1="251.50" y1="235.00" x2="251.50" y2="237.80" stroke="#555" stroke-width="0.8" />
<text x="251.70" y="244.57" font-family="Liberation Sans, sans-serif" font-size="7.7" fill="#555" text-anchor="middle" textLength="13.40" lengthAdjust="spacingAndGlyphs" >2014</text>
<line x1="269.01" y1="235.00" x2="269.01" y2="237.80" stroke="#555" stroke-width="0.8" />
<text x="269.21" y="244.57" font-family="Liberation Sans, sans-serif" font-size="7.7" fill="#555" text-anchor="middle" textLength="13.40" lengthAdjust="spacingAndGlyphs" >2015</text>
<line x1="286.52" y1="235.00" x2="286.52" y2="237.80" stroke="#555" stroke-width="0.8" />
<text x="286.72" y="244.57" font-family="Liberation Sans, sans-serif" font-size="7.7" fill="#555" text-anchor="middle" textLength="13.40" lengthAdjust="spacingAndGlyphs" >2016</text>
<line x1="304.03" y1="235.00" x2="304.03" y2="237.80" stroke="#555" stroke-width="0.8" />
<text x="304.23" y="244.57" font-family="Liberation Sans, sans-serif" font-size="7.7" fill="#555" text-anchor="middle" textLength="13.40" lengthAdjust="spacingAndGlyphs" >2017</text>
<line x1="321.54" y1="235.00" x2="321.54" y2="237.80" stroke="#555" stroke-width="0.8" />
<text x="321.74" y="244.57" font-family="Liberation Sans, sans-serif" font-size="7.7" fill="#555" text-anchor="middle" textLength="13.40" lengthAdjust="spacingAndGlyphs" >2018</text>
<line x1="339.05" y1="235.00" x2="339.05" y2="237.80" stroke="#555" stroke-width="0.8" />
<text x="339.25" y="244.57" font-family="Liberation Sans, sans-serif" font-size="7.7" fill="#555" text-anchor="middle" textLength="13.40" lengthAdjust="spacingAndGlyphs" >2019</text>
<line x1="356.56" y1="235.00" x2="356.56" y2="237.80" stroke="#555" stroke-width="0.8" />
<text x="356.76" y="244.57" font-family="Liberation Sans, sans-serif" font-size="7.7" fill="#555" text-anchor="middle" textLength="13.40" lengthAdjust="spacingAndGlyphs" >2020</text>
<line x1="374.07" y1="235.00" x2="374.07" y2="237.80" stroke="#555" stroke-width="0.8" />
<text x="374.27" y="244.57" font-family="Liberation Sans, sans-serif" font-size="7.7" fill="#555" text-anchor="middle" textLength="13.40" lengthAdjust="spacingAndGlyphs" >2021</text>
<line x1="391.58" y1="235.00" x2="391.58" y2="237.80" stroke="#555" stroke-width="0.8" />
<text x="391.78" y="244.57" font-family="Liberation Sans, sans-serif" font-size="7.7" fill="#555" text-anchor="middle" textLength="13.40" lengthAdjust="spacingAndGlyphs" >2022</text>
<line x1="409.09" y1="235.00" x2="409.09" y2="237.80" stroke="#555" stroke-width="0.8" />
<text x="409.29" y="244.57" font-family="Liberation Sans, sans-serif" font-size="7.7" fill="#555" text-anchor="middle" textLength="13.40" lengthAdjust="spacingAndGlyphs" >2023</text>
<polyline points="251.50,235.00 269.01,231.05 286.52,230.56 304.03,229.94 321.54,229.45 339.05,229.08 356.56,156.27 374.07,152.57 391.58,142.94 409.09,130.97" fill="none" stroke="#0b7a0b" stroke-width="1.25" stroke-linejoin="round"/>
<circle cx="251.50" cy="235.00" r="2.35" fill="#0b7a0b"/>
<circle cx="269.01" cy="231.05" r="2.35" fill="#0b7a0b"/>
<circle cx="286.52" cy="230.56" r="2.35" fill="#0b7a0b"/>
<circle cx="304.03" cy="229.94" r="2.35" fill="#0b7a0b"/>
<circle cx="321.54" cy="229.45" r="2.35" fill="#0b7a0b"/>
<circle cx="339.05" cy="229.08" r="2.35" fill="#0b7a0b"/>
<circle cx="356.56" cy="156.27" r="2.35" fill="#0b7a0b"/>
<circle cx="374.07" cy="152.57" r="2.35" fill="#0b7a0b"/>
<circle cx="391.58" cy="142.94" r="2.35" fill="#0b7a0b"/>
<circle cx="409.09" cy="130.97" r="2.35" fill="#0b7a0b"/>
<g><text transform="translate(209.90 173.30) rotate(-90)" font-family="Liberation Sans, sans-serif" font-size="9.3" fill="#444" text-anchor="middle" textLength="100.40" lengthAdjust="spacingAndGlyphs">WELL - Oil Gross (value)</text></g>
<rect x="494.75" y="111.60" width="172.15" height="123.40" fill="url(#plot)" />
<line x1="494.75" y1="222.66" x2="666.90" y2="222.66" stroke="#b2b2b2" stroke-width="0.75" stroke-dasharray="1.9 1.7" />
<line x1="494.75" y1="210.32" x2="666.90" y2="210.32" stroke="#b2b2b2" stroke-width="0.75" stroke-dasharray="1.9 1.7" />
<line x1="494.75" y1="197.98" x2="666.90" y2="197.98" stroke="#b2b2b2" stroke-width="0.75" stroke-dasharray="1.9 1.7" />
<line x1="494.75" y1="185.64" x2="666.90" y2="185.64" stroke="#b2b2b2" stroke-width="0.75" stroke-dasharray="1.9 1.7" />
<line x1="494.75" y1="173.30" x2="666.90" y2="173.30" stroke="#b2b2b2" stroke-width="0.75" stroke-dasharray="1.9 1.7" />
<line x1="494.75" y1="160.96" x2="666.90" y2="160.96" stroke="#b2b2b2" stroke-width="0.75" stroke-dasharray="1.9 1.7" />
<line x1="494.75" y1="148.62" x2="666.90" y2="148.62" stroke="#b2b2b2" stroke-width="0.75" stroke-dasharray="1.9 1.7" />
<line x1="494.75" y1="136.28" x2="666.90" y2="136.28" stroke="#b2b2b2" stroke-width="0.75" stroke-dasharray="1.9 1.7" />
<line x1="494.75" y1="123.94" x2="666.90" y2="123.94" stroke="#b2b2b2" stroke-width="0.75" stroke-dasharray="1.9 1.7" />
<line x1="494.75" y1="111.60" x2="666.90" y2="111.60" stroke="#b2b2b2" stroke-width="0.75" stroke-dasharray="1.9 1.7" />
<line x1="501.50" y1="111.60" x2="501.50" y2="235.00" stroke="#b2b2b2" stroke-width="0.75" stroke-dasharray="1.9 1.7" />
<line x1="519.01" y1="111.60" x2="519.01" y2="235.00" stroke="#b2b2b2" stroke-width="0.75" stroke-dasharray="1.9 1.7" />
<line x1="536.52" y1="111.60" x2="536.52" y2="235.00" stroke="#b2b2b2" stroke-width="0.75" stroke-dasharray="1.9 1.7" />
<line x1="554.03" y1="111.60" x2="554.03" y2="235.00" stroke="#b2b2b2" stroke-width="0.75" stroke-dasharray="1.9 1.7" />
<line x1="571.54" y1="111.60" x2="571.54" y2="235.00" stroke="#b2b2b2" stroke-width="0.75" stroke-dasharray="1.9 1.7" />
<line x1="589.05" y1="111.60" x2="589.05" y2="235.00" stroke="#b2b2b2" stroke-width="0.75" stroke-dasharray="1.9 1.7" />
<line x1="606.56" y1="111.60" x2="606.56" y2="235.00" stroke="#b2b2b2" stroke-width="0.75" stroke-dasharray="1.9 1.7" />
<line x1="624.07" y1="111.60" x2="624.07" y2="235.00" stroke="#b2b2b2" stroke-width="0.75" stroke-dasharray="1.9 1.7" />
<line x1="641.58" y1="111.60" x2="641.58" y2="235.00" stroke="#b2b2b2" stroke-width="0.75" stroke-dasharray="1.9 1.7" />
<line x1="659.09" y1="111.60" x2="659.09" y2="235.00" stroke="#b2b2b2" stroke-width="0.75" stroke-dasharray="1.9 1.7" />
<path d="M501.50 235.00L501.50 183.42C502.73 181.73 516.56 161.70 519.01 159.23C521.46 156.76 534.07 149.04 536.52 148.13C538.97 147.21 551.58 146.17 554.03 146.15C556.48 146.13 569.09 147.41 571.54 147.88C573.99 148.35 586.60 151.85 589.05 152.82C591.50 153.78 604.11 161.04 606.56 161.70C609.01 162.36 621.62 162.47 624.07 162.19C626.52 161.92 639.13 158.39 641.58 157.75C644.03 157.11 657.86 153.39 659.09 153.06L659.09 235.00Z" fill="url(#area)" stroke="#d29208" stroke-width="0.5"/>
<line x1="494.75" y1="111.30" x2="494.75" y2="235.50" stroke="#555" stroke-width="1.15" />
<line x1="494.25" y1="235.35" x2="666.90" y2="235.35" stroke="#505050" stroke-width="1.0" />
<line x1="491.75" y1="235.00" x2="494.75" y2="235.00" stroke="#555" stroke-width="0.8" />
<text x="489.95" y="237.67" font-family="Liberation Sans, sans-serif" font-size="7.7" fill="#555" text-anchor="end" textLength="3.38" lengthAdjust="spacingAndGlyphs" >0</text>
<line x1="491.75" y1="222.66" x2="494.75" y2="222.66" stroke="#555" stroke-width="0.8" />
<text x="489.95" y="225.33" font-family="Liberation Sans, sans-serif" font-size="7.7" fill="#555" text-anchor="end" textLength="15.22" lengthAdjust="spacingAndGlyphs" >5,000</text>
<line x1="491.75" y1="210.32" x2="494.75" y2="210.32" stroke="#555" stroke-width="0.8" />
<text x="489.95" y="212.99" font-family="Liberation Sans, sans-serif" font-size="7.7" fill="#555" text-anchor="end" textLength="18.61" lengthAdjust="spacingAndGlyphs" >10,000</text>
<line x1="491.75" y1="197.98" x2="494.75" y2="197.98" stroke="#555" stroke-width="0.8" />
<text x="489.95" y="200.65" font-family="Liberation Sans, sans-serif" font-size="7.7" fill="#555" text-anchor="end" textLength="18.61" lengthAdjust="spacingAndGlyphs" >15,000</text>
<line x1="491.75" y1="185.64" x2="494.75" y2="185.64" stroke="#555" stroke-width="0.8" />
<text x="489.95" y="188.31" font-family="Liberation Sans, sans-serif" font-size="7.7" fill="#555" text-anchor="end" textLength="18.61" lengthAdjust="spacingAndGlyphs" >20,000</text>
<line x1="491.75" y1="173.30" x2="494.75" y2="173.30" stroke="#555" stroke-width="0.8" />
<text x="489.95" y="175.97" font-family="Liberation Sans, sans-serif" font-size="7.7" fill="#555" text-anchor="end" textLength="18.61" lengthAdjust="spacingAndGlyphs" >25,000</text>
<line x1="491.75" y1="160.96" x2="494.75" y2="160.96" stroke="#555" stroke-width="0.8" />
<text x="489.95" y="163.63" font-family="Liberation Sans, sans-serif" font-size="7.7" fill="#555" text-anchor="end" textLength="18.61" lengthAdjust="spacingAndGlyphs" >30,000</text>
<line x1="491.75" y1="148.62" x2="494.75" y2="148.62" stroke="#555" stroke-width="0.8" />
<text x="489.95" y="151.29" font-family="Liberation Sans, sans-serif" font-size="7.7" fill="#555" text-anchor="end" textLength="18.61" lengthAdjust="spacingAndGlyphs" >35,000</text>
<line x1="491.75" y1="136.28" x2="494.75" y2="136.28" stroke="#555" stroke-width="0.8" />
<text x="489.95" y="138.95" font-family="Liberation Sans, sans-serif" font-size="7.7" fill="#555" text-anchor="end" textLength="18.61" lengthAdjust="spacingAndGlyphs" >40,000</text>
<line x1="491.75" y1="123.94" x2="494.75" y2="123.94" stroke="#555" stroke-width="0.8" />
<text x="489.95" y="126.61" font-family="Liberation Sans, sans-serif" font-size="7.7" fill="#555" text-anchor="end" textLength="18.61" lengthAdjust="spacingAndGlyphs" >45,000</text>
<line x1="491.75" y1="111.60" x2="494.75" y2="111.60" stroke="#555" stroke-width="0.8" />
<text x="489.95" y="114.27" font-family="Liberation Sans, sans-serif" font-size="7.7" fill="#555" text-anchor="end" textLength="18.61" lengthAdjust="spacingAndGlyphs" >50,000</text>
<line x1="501.50" y1="235.00" x2="501.50" y2="237.80" stroke="#555" stroke-width="0.8" />
<text x="501.70" y="244.57" font-family="Liberation Sans, sans-serif" font-size="7.7" fill="#555" text-anchor="middle" textLength="13.40" lengthAdjust="spacingAndGlyphs" >2014</text>
<line x1="519.01" y1="235.00" x2="519.01" y2="237.80" stroke="#555" stroke-width="0.8" />
<text x="519.21" y="244.57" font-family="Liberation Sans, sans-serif" font-size="7.7" fill="#555" text-anchor="middle" textLength="13.40" lengthAdjust="spacingAndGlyphs" >2015</text>
<line x1="536.52" y1="235.00" x2="536.52" y2="237.80" stroke="#555" stroke-width="0.8" />
<text x="536.72" y="244.57" font-family="Liberation Sans, sans-serif" font-size="7.7" fill="#555" text-anchor="middle" textLength="13.40" lengthAdjust="spacingAndGlyphs" >2016</text>
<line x1="554.03" y1="235.00" x2="554.03" y2="237.80" stroke="#555" stroke-width="0.8" />
<text x="554.23" y="244.57" font-family="Liberation Sans, sans-serif" font-size="7.7" fill="#555" text-anchor="middle" textLength="13.40" lengthAdjust="spacingAndGlyphs" >2017</text>
<line x1="571.54" y1="235.00" x2="571.54" y2="237.80" stroke="#555" stroke-width="0.8" />
<text x="571.74" y="244.57" font-family="Liberation Sans, sans-serif" font-size="7.7" fill="#555" text-anchor="middle" textLength="13.40" lengthAdjust="spacingAndGlyphs" >2018</text>
<line x1="589.05" y1="235.00" x2="589.05" y2="237.80" stroke="#555" stroke-width="0.8" />
<text x="589.25" y="244.57" font-family="Liberation Sans, sans-serif" font-size="7.7" fill="#555" text-anchor="middle" textLength="13.40" lengthAdjust="spacingAndGlyphs" >2019</text>
<line x1="606.56" y1="235.00" x2="606.56" y2="237.80" stroke="#555" stroke-width="0.8" />
<text x="606.76" y="244.57" font-family="Liberation Sans, sans-serif" font-size="7.7" fill="#555" text-anchor="middle" textLength="13.40" lengthAdjust="spacingAndGlyphs" >2020</text>
<line x1="624.07" y1="235.00" x2="624.07" y2="237.80" stroke="#555" stroke-width="0.8" />
<text x="624.27" y="244.57" font-family="Liberation Sans, sans-serif" font-size="7.7" fill="#555" text-anchor="middle" textLength="13.40" lengthAdjust="spacingAndGlyphs" >2021</text>
<line x1="641.58" y1="235.00" x2="641.58" y2="237.80" stroke="#555" stroke-width="0.8" />
<text x="641.78" y="244.57" font-family="Liberation Sans, sans-serif" font-size="7.7" fill="#555" text-anchor="middle" textLength="13.40" lengthAdjust="spacingAndGlyphs" >2022</text>
<line x1="659.09" y1="235.00" x2="659.09" y2="237.80" stroke="#555" stroke-width="0.8" />
<text x="659.29" y="244.57" font-family="Liberation Sans, sans-serif" font-size="7.7" fill="#555" text-anchor="middle" textLength="13.40" lengthAdjust="spacingAndGlyphs" >2023</text>
<g><text transform="translate(459.90 173.30) rotate(-90)" font-family="Liberation Sans, sans-serif" font-size="9.3" fill="#444" text-anchor="middle" textLength="103.10" lengthAdjust="spacingAndGlyphs">RATE - BOE Net (boe/dy)</text></g>
<rect x="745.40" y="111.60" width="172.10" height="123.40" fill="url(#plot)" />
<line x1="745.40" y1="222.66" x2="917.50" y2="222.66" stroke="#b2b2b2" stroke-width="0.75" stroke-dasharray="1.9 1.7" />
<line x1="745.40" y1="210.32" x2="917.50" y2="210.32" stroke="#b2b2b2" stroke-width="0.75" stroke-dasharray="1.9 1.7" />
<line x1="745.40" y1="197.98" x2="917.50" y2="197.98" stroke="#b2b2b2" stroke-width="0.75" stroke-dasharray="1.9 1.7" />
<line x1="745.40" y1="185.64" x2="917.50" y2="185.64" stroke="#b2b2b2" stroke-width="0.75" stroke-dasharray="1.9 1.7" />
<line x1="745.40" y1="173.30" x2="917.50" y2="173.30" stroke="#b2b2b2" stroke-width="0.75" stroke-dasharray="1.9 1.7" />
<line x1="745.40" y1="160.96" x2="917.50" y2="160.96" stroke="#b2b2b2" stroke-width="0.75" stroke-dasharray="1.9 1.7" />
<line x1="745.40" y1="148.62" x2="917.50" y2="148.62" stroke="#b2b2b2" stroke-width="0.75" stroke-dasharray="1.9 1.7" />
<line x1="745.40" y1="136.28" x2="917.50" y2="136.28" stroke="#b2b2b2" stroke-width="0.75" stroke-dasharray="1.9 1.7" />
<line x1="745.40" y1="123.94" x2="917.50" y2="123.94" stroke="#b2b2b2" stroke-width="0.75" stroke-dasharray="1.9 1.7" />
<line x1="745.40" y1="111.60" x2="917.50" y2="111.60" stroke="#b2b2b2" stroke-width="0.75" stroke-dasharray="1.9 1.7" />
<line x1="752.50" y1="111.60" x2="752.50" y2="235.00" stroke="#b2b2b2" stroke-width="0.75" stroke-dasharray="1.9 1.7" />
<line x1="769.97" y1="111.60" x2="769.97" y2="235.00" stroke="#b2b2b2" stroke-width="0.75" stroke-dasharray="1.9 1.7" />
<line x1="787.44" y1="111.60" x2="787.44" y2="235.00" stroke="#b2b2b2" stroke-width="0.75" stroke-dasharray="1.9 1.7" />
<line x1="804.91" y1="111.60" x2="804.91" y2="235.00" stroke="#b2b2b2" stroke-width="0.75" stroke-dasharray="1.9 1.7" />
<line x1="822.38" y1="111.60" x2="822.38" y2="235.00" stroke="#b2b2b2" stroke-width="0.75" stroke-dasharray="1.9 1.7" />
<line x1="839.85" y1="111.60" x2="839.85" y2="235.00" stroke="#b2b2b2" stroke-width="0.75" stroke-dasharray="1.9 1.7" />
<line x1="857.32" y1="111.60" x2="857.32" y2="235.00" stroke="#b2b2b2" stroke-width="0.75" stroke-dasharray="1.9 1.7" />
<line x1="874.79" y1="111.60" x2="874.79" y2="235.00" stroke="#b2b2b2" stroke-width="0.75" stroke-dasharray="1.9 1.7" />
<line x1="892.26" y1="111.60" x2="892.26" y2="235.00" stroke="#b2b2b2" stroke-width="0.75" stroke-dasharray="1.9 1.7" />
<line x1="909.73" y1="111.60" x2="909.73" y2="235.00" stroke="#b2b2b2" stroke-width="0.75" stroke-dasharray="1.9 1.7" />
<rect x="747.10" y="189.10" width="10.80" height="45.90" fill="url(#gblue)" />
<rect x="764.57" y="173.67" width="10.80" height="61.33" fill="url(#gblue)" />
<rect x="782.04" y="172.07" width="10.80" height="62.93" fill="url(#gblue)" />
<rect x="799.51" y="172.68" width="10.80" height="62.32" fill="url(#gblue)" />
<rect x="816.98" y="175.15" width="10.80" height="59.85" fill="url(#gblue)" />
<rect x="834.45" y="177.87" width="10.80" height="57.13" fill="url(#gblue)" />
<rect x="851.92" y="185.27" width="10.80" height="49.73" fill="url(#gblue)" />
<rect x="869.39" y="185.89" width="10.80" height="49.11" fill="url(#gblue)" />
<rect x="886.86" y="179.96" width="10.80" height="55.04" fill="url(#gblue)" />
<rect x="904.33" y="176.14" width="10.80" height="58.86" fill="url(#gblue)" />
<line x1="745.40" y1="111.30" x2="745.40" y2="235.50" stroke="#555" stroke-width="1.15" />
<line x1="744.90" y1="235.35" x2="917.50" y2="235.35" stroke="#505050" stroke-width="1.0" />
<line x1="742.40" y1="235.00" x2="745.40" y2="235.00" stroke="#555" stroke-width="0.8" />
<text x="740.60" y="237.67" font-family="Liberation Sans, sans-serif" font-size="7.7" fill="#555" text-anchor="end" textLength="3.38" lengthAdjust="spacingAndGlyphs" >0</text>
<line x1="742.40" y1="222.66" x2="745.40" y2="222.66" stroke="#555" stroke-width="0.8" />
<text x="740.60" y="225.33" font-family="Liberation Sans, sans-serif" font-size="7.7" fill="#555" text-anchor="end" textLength="21.99" lengthAdjust="spacingAndGlyphs" >100,000</text>
<line x1="742.40" y1="210.32" x2="745.40" y2="210.32" stroke="#555" stroke-width="0.8" />
<text x="740.60" y="212.99" font-family="Liberation Sans, sans-serif" font-size="7.7" fill="#555" text-anchor="end" textLength="21.99" lengthAdjust="spacingAndGlyphs" >200,000</text>
<line x1="742.40" y1="197.98" x2="745.40" y2="197.98" stroke="#555" stroke-width="0.8" />
<text x="740.60" y="200.65" font-family="Liberation Sans, sans-serif" font-size="7.7" fill="#555" text-anchor="end" textLength="21.99" lengthAdjust="spacingAndGlyphs" >300,000</text>
<line x1="742.40" y1="185.64" x2="745.40" y2="185.64" stroke="#555" stroke-width="0.8" />
<text x="740.60" y="188.31" font-family="Liberation Sans, sans-serif" font-size="7.7" fill="#555" text-anchor="end" textLength="21.99" lengthAdjust="spacingAndGlyphs" >400,000</text>
<line x1="742.40" y1="173.30" x2="745.40" y2="173.30" stroke="#555" stroke-width="0.8" />
<text x="740.60" y="175.97" font-family="Liberation Sans, sans-serif" font-size="7.7" fill="#555" text-anchor="end" textLength="21.99" lengthAdjust="spacingAndGlyphs" >500,000</text>
<line x1="742.40" y1="160.96" x2="745.40" y2="160.96" stroke="#555" stroke-width="0.8" />
<text x="740.60" y="163.63" font-family="Liberation Sans, sans-serif" font-size="7.7" fill="#555" text-anchor="end" textLength="21.99" lengthAdjust="spacingAndGlyphs" >600,000</text>
<line x1="742.40" y1="148.62" x2="745.40" y2="148.62" stroke="#555" stroke-width="0.8" />
<text x="740.60" y="151.29" font-family="Liberation Sans, sans-serif" font-size="7.7" fill="#555" text-anchor="end" textLength="21.99" lengthAdjust="spacingAndGlyphs" >700,000</text>
<line x1="742.40" y1="136.28" x2="745.40" y2="136.28" stroke="#555" stroke-width="0.8" />
<text x="740.60" y="138.95" font-family="Liberation Sans, sans-serif" font-size="7.7" fill="#555" text-anchor="end" textLength="21.99" lengthAdjust="spacingAndGlyphs" >800,000</text>
<line x1="742.40" y1="123.94" x2="745.40" y2="123.94" stroke="#555" stroke-width="0.8" />
<text x="740.60" y="126.61" font-family="Liberation Sans, sans-serif" font-size="7.7" fill="#555" text-anchor="end" textLength="21.99" lengthAdjust="spacingAndGlyphs" >900,000</text>
<line x1="742.40" y1="111.60" x2="745.40" y2="111.60" stroke="#555" stroke-width="0.8" />
<text x="740.60" y="114.27" font-family="Liberation Sans, sans-serif" font-size="7.7" fill="#555" text-anchor="end" textLength="27.06" lengthAdjust="spacingAndGlyphs" >1,000,000</text>
<line x1="752.50" y1="235.00" x2="752.50" y2="237.80" stroke="#555" stroke-width="0.8" />
<text x="752.70" y="244.57" font-family="Liberation Sans, sans-serif" font-size="7.7" fill="#555" text-anchor="middle" textLength="13.40" lengthAdjust="spacingAndGlyphs" >2014</text>
<line x1="769.97" y1="235.00" x2="769.97" y2="237.80" stroke="#555" stroke-width="0.8" />
<text x="770.17" y="244.57" font-family="Liberation Sans, sans-serif" font-size="7.7" fill="#555" text-anchor="middle" textLength="13.40" lengthAdjust="spacingAndGlyphs" >2015</text>
<line x1="787.44" y1="235.00" x2="787.44" y2="237.80" stroke="#555" stroke-width="0.8" />
<text x="787.64" y="244.57" font-family="Liberation Sans, sans-serif" font-size="7.7" fill="#555" text-anchor="middle" textLength="13.40" lengthAdjust="spacingAndGlyphs" >2016</text>
<line x1="804.91" y1="235.00" x2="804.91" y2="237.80" stroke="#555" stroke-width="0.8" />
<text x="805.11" y="244.57" font-family="Liberation Sans, sans-serif" font-size="7.7" fill="#555" text-anchor="middle" textLength="13.40" lengthAdjust="spacingAndGlyphs" >2017</text>
<line x1="822.38" y1="235.00" x2="822.38" y2="237.80" stroke="#555" stroke-width="0.8" />
<text x="822.58" y="244.57" font-family="Liberation Sans, sans-serif" font-size="7.7" fill="#555" text-anchor="middle" textLength="13.40" lengthAdjust="spacingAndGlyphs" >2018</text>
<line x1="839.85" y1="235.00" x2="839.85" y2="237.80" stroke="#555" stroke-width="0.8" />
<text x="840.05" y="244.57" font-family="Liberation Sans, sans-serif" font-size="7.7" fill="#555" text-anchor="middle" textLength="13.40" lengthAdjust="spacingAndGlyphs" >2019</text>
<line x1="857.32" y1="235.00" x2="857.32" y2="237.80" stroke="#555" stroke-width="0.8" />
<text x="857.52" y="244.57" font-family="Liberation Sans, sans-serif" font-size="7.7" fill="#555" text-anchor="middle" textLength="13.40" lengthAdjust="spacingAndGlyphs" >2020</text>
<line x1="874.79" y1="235.00" x2="874.79" y2="237.80" stroke="#555" stroke-width="0.8" />
<text x="874.99" y="244.57" font-family="Liberation Sans, sans-serif" font-size="7.7" fill="#555" text-anchor="middle" textLength="13.40" lengthAdjust="spacingAndGlyphs" >2021</text>
<line x1="892.26" y1="235.00" x2="892.26" y2="237.80" stroke="#555" stroke-width="0.8" />
<text x="892.46" y="244.57" font-family="Liberation Sans, sans-serif" font-size="7.7" fill="#555" text-anchor="middle" textLength="13.40" lengthAdjust="spacingAndGlyphs" >2022</text>
<line x1="909.73" y1="235.00" x2="909.73" y2="237.80" stroke="#555" stroke-width="0.8" />
<text x="909.93" y="244.57" font-family="Liberation Sans, sans-serif" font-size="7.7" fill="#555" text-anchor="middle" textLength="13.40" lengthAdjust="spacingAndGlyphs" >2023</text>
<g><text transform="translate(710.55 173.30) rotate(-90)" font-family="Liberation Sans, sans-serif" font-size="9.3" fill="#444" text-anchor="middle" textLength="102.59" lengthAdjust="spacingAndGlyphs">REV - Total Net (M$USD)</text></g>
<rect x="244.75" y="319.40" width="172.15" height="123.10" fill="url(#plot)" />
<line x1="244.75" y1="430.19" x2="416.90" y2="430.19" stroke="#b2b2b2" stroke-width="0.75" stroke-dasharray="1.9 1.7" />
<line x1="244.75" y1="417.88" x2="416.90" y2="417.88" stroke="#b2b2b2" stroke-width="0.75" stroke-dasharray="1.9 1.7" />
<line x1="244.75" y1="405.57" x2="416.90" y2="405.57" stroke="#b2b2b2" stroke-width="0.75" stroke-dasharray="1.9 1.7" />
<line x1="244.75" y1="393.26" x2="416.90" y2="393.26" stroke="#b2b2b2" stroke-width="0.75" stroke-dasharray="1.9 1.7" />
<line x1="244.75" y1="380.95" x2="416.90" y2="380.95" stroke="#b2b2b2" stroke-width="0.75" stroke-dasharray="1.9 1.7" />
<line x1="244.75" y1="368.64" x2="416.90" y2="368.64" stroke="#b2b2b2" stroke-width="0.75" stroke-dasharray="1.9 1.7" />
<line x1="244.75" y1="356.33" x2="416.90" y2="356.33" stroke="#b2b2b2" stroke-width="0.75" stroke-dasharray="1.9 1.7" />
<line x1="244.75" y1="344.02" x2="416.90" y2="344.02" stroke="#b2b2b2" stroke-width="0.75" stroke-dasharray="1.9 1.7" />
<line x1="244.75" y1="331.71" x2="416.90" y2="331.71" stroke="#b2b2b2" stroke-width="0.75" stroke-dasharray="1.9 1.7" />
<line x1="244.75" y1="319.40" x2="416.90" y2="319.40" stroke="#b2b2b2" stroke-width="0.75" stroke-dasharray="1.9 1.7" />
<line x1="251.50" y1="319.40" x2="251.50" y2="442.50" stroke="#b2b2b2" stroke-width="0.75" stroke-dasharray="1.9 1.7" />
<line x1="269.01" y1="319.40" x2="269.01" y2="442.50" stroke="#b2b2b2" stroke-width="0.75" stroke-dasharray="1.9 1.7" />
<line x1="286.52" y1="319.40" x2="286.52" y2="442.50" stroke="#b2b2b2" stroke-width="0.75" stroke-dasharray="1.9 1.7" />
<line x1="304.03" y1="319.40" x2="304.03" y2="442.50" stroke="#b2b2b2" stroke-width="0.75" stroke-dasharray="1.9 1.7" />
<line x1="321.54" y1="319.40" x2="321.54" y2="442.50" stroke="#b2b2b2" stroke-width="0.75" stroke-dasharray="1.9 1.7" />
<line x1="339.05" y1="319.40" x2="339.05" y2="442.50" stroke="#b2b2b2" stroke-width="0.75" stroke-dasharray="1.9 1.7" />
<line x1="356.56" y1="319.40" x2="356.56" y2="442.50" stroke="#b2b2b2" stroke-width="0.75" stroke-dasharray="1.9 1.7" />
<line x1="374.07" y1="319.40" x2="374.07" y2="442.50" stroke="#b2b2b2" stroke-width="0.75" stroke-dasharray="1.9 1.7" />
<line x1="391.58" y1="319.40" x2="391.58" y2="442.50" stroke="#b2b2b2" stroke-width="0.75" stroke-dasharray="1.9 1.7" />
<line x1="409.09" y1="319.40" x2="409.09" y2="442.50" stroke="#b2b2b2" stroke-width="0.75" stroke-dasharray="1.9 1.7" />
<rect x="246.10" y="403.11" width="10.80" height="39.39" fill="url(#gpurple)" />
<rect x="263.61" y="384.89" width="10.80" height="57.61" fill="url(#gpurple)" />
<rect x="281.12" y="370.61" width="10.80" height="71.89" fill="url(#gpurple)" />
<rect x="298.63" y="361.01" width="10.80" height="81.49" fill="url(#gpurple)" />
<rect x="316.14" y="356.08" width="10.80" height="86.42" fill="url(#gpurple)" />
<rect x="333.65" y="353.13" width="10.80" height="89.37" fill="url(#gpurple)" />
<rect x="351.16" y="351.16" width="10.80" height="91.34" fill="url(#gpurple)" />
<rect x="368.67" y="348.21" width="10.80" height="94.29" fill="url(#gpurple)" />
<rect x="386.18" y="342.05" width="10.80" height="100.45" fill="url(#gpurple)" />
<rect x="403.69" y="334.17" width="10.80" height="108.33" fill="url(#gpurple)" />
<line x1="244.75" y1="319.10" x2="244.75" y2="443.00" stroke="#555" stroke-width="1.15" />
<line x1="244.25" y1="442.85" x2="416.90" y2="442.85" stroke="#505050" stroke-width="1.0" />
<line x1="241.75" y1="442.50" x2="244.75" y2="442.50" stroke="#555" stroke-width="0.8" />
<text x="239.95" y="445.17" font-family="Liberation Sans, sans-serif" font-size="7.7" fill="#555" text-anchor="end" textLength="3.38" lengthAdjust="spacingAndGlyphs" >0</text>
<line x1="241.75" y1="430.19" x2="244.75" y2="430.19" stroke="#555" stroke-width="0.8" />
<text x="239.95" y="432.86" font-family="Liberation Sans, sans-serif" font-size="7.7" fill="#555" text-anchor="end" textLength="15.22" lengthAdjust="spacingAndGlyphs" >5,000</text>
<line x1="241.75" y1="417.88" x2="244.75" y2="417.88" stroke="#555" stroke-width="0.8" />
<text x="239.95" y="420.55" font-family="Liberation Sans, sans-serif" font-size="7.7" fill="#555" text-anchor="end" textLength="18.61" lengthAdjust="spacingAndGlyphs" >10,000</text>
<line x1="241.75" y1="405.57" x2="244.75" y2="405.57" stroke="#555" stroke-width="0.8" />
<text x="239.95" y="408.24" font-family="Liberation Sans, sans-serif" font-size="7.7" fill="#555" text-anchor="end" textLength="18.61" lengthAdjust="spacingAndGlyphs" >15,000</text>
<line x1="241.75" y1="393.26" x2="244.75" y2="393.26" stroke="#555" stroke-width="0.8" />
<text x="239.95" y="395.93" font-family="Liberation Sans, sans-serif" font-size="7.7" fill="#555" text-anchor="end" textLength="18.61" lengthAdjust="spacingAndGlyphs" >20,000</text>
<line x1="241.75" y1="380.95" x2="244.75" y2="380.95" stroke="#555" stroke-width="0.8" />
<text x="239.95" y="383.62" font-family="Liberation Sans, sans-serif" font-size="7.7" fill="#555" text-anchor="end" textLength="18.61" lengthAdjust="spacingAndGlyphs" >25,000</text>
<line x1="241.75" y1="368.64" x2="244.75" y2="368.64" stroke="#555" stroke-width="0.8" />
<text x="239.95" y="371.31" font-family="Liberation Sans, sans-serif" font-size="7.7" fill="#555" text-anchor="end" textLength="18.61" lengthAdjust="spacingAndGlyphs" >30,000</text>
<line x1="241.75" y1="356.33" x2="244.75" y2="356.33" stroke="#555" stroke-width="0.8" />
<text x="239.95" y="359.00" font-family="Liberation Sans, sans-serif" font-size="7.7" fill="#555" text-anchor="end" textLength="18.61" lengthAdjust="spacingAndGlyphs" >35,000</text>
<line x1="241.75" y1="344.02" x2="244.75" y2="344.02" stroke="#555" stroke-width="0.8" />
<text x="239.95" y="346.69" font-family="Liberation Sans, sans-serif" font-size="7.7" fill="#555" text-anchor="end" textLength="18.61" lengthAdjust="spacingAndGlyphs" >40,000</text>
<line x1="241.75" y1="331.71" x2="244.75" y2="331.71" stroke="#555" stroke-width="0.8" />
<text x="239.95" y="334.38" font-family="Liberation Sans, sans-serif" font-size="7.7" fill="#555" text-anchor="end" textLength="18.61" lengthAdjust="spacingAndGlyphs" >45,000</text>
<line x1="241.75" y1="319.40" x2="244.75" y2="319.40" stroke="#555" stroke-width="0.8" />
<text x="239.95" y="322.07" font-family="Liberation Sans, sans-serif" font-size="7.7" fill="#555" text-anchor="end" textLength="18.61" lengthAdjust="spacingAndGlyphs" >50,000</text>
<line x1="251.50" y1="442.50" x2="251.50" y2="445.30" stroke="#555" stroke-width="0.8" />
<text x="251.70" y="452.07" font-family="Liberation Sans, sans-serif" font-size="7.7" fill="#555" text-anchor="middle" textLength="13.40" lengthAdjust="spacingAndGlyphs" >2014</text>
<line x1="269.01" y1="442.50" x2="269.01" y2="445.30" stroke="#555" stroke-width="0.8" />
<text x="269.21" y="452.07" font-family="Liberation Sans, sans-serif" font-size="7.7" fill="#555" text-anchor="middle" textLength="13.40" lengthAdjust="spacingAndGlyphs" >2015</text>
<line x1="286.52" y1="442.50" x2="286.52" y2="445.30" stroke="#555" stroke-width="0.8" />
<text x="286.72" y="452.07" font-family="Liberation Sans, sans-serif" font-size="7.7" fill="#555" text-anchor="middle" textLength="13.40" lengthAdjust="spacingAndGlyphs" >2016</text>
<line x1="304.03" y1="442.50" x2="304.03" y2="445.30" stroke="#555" stroke-width="0.8" />
<text x="304.23" y="452.07" font-family="Liberation Sans, sans-serif" font-size="7.7" fill="#555" text-anchor="middle" textLength="13.40" lengthAdjust="spacingAndGlyphs" >2017</text>
<line x1="321.54" y1="442.50" x2="321.54" y2="445.30" stroke="#555" stroke-width="0.8" />
<text x="321.74" y="452.07" font-family="Liberation Sans, sans-serif" font-size="7.7" fill="#555" text-anchor="middle" textLength="13.40" lengthAdjust="spacingAndGlyphs" >2018</text>
<line x1="339.05" y1="442.50" x2="339.05" y2="445.30" stroke="#555" stroke-width="0.8" />
<text x="339.25" y="452.07" font-family="Liberation Sans, sans-serif" font-size="7.7" fill="#555" text-anchor="middle" textLength="13.40" lengthAdjust="spacingAndGlyphs" >2019</text>
<line x1="356.56" y1="442.50" x2="356.56" y2="445.30" stroke="#555" stroke-width="0.8" />
<text x="356.76" y="452.07" font-family="Liberation Sans, sans-serif" font-size="7.7" fill="#555" text-anchor="middle" textLength="13.40" lengthAdjust="spacingAndGlyphs" >2020</text>
<line x1="374.07" y1="442.50" x2="374.07" y2="445.30" stroke="#555" stroke-width="0.8" />
<text x="374.27" y="452.07" font-family="Liberation Sans, sans-serif" font-size="7.7" fill="#555" text-anchor="middle" textLength="13.40" lengthAdjust="spacingAndGlyphs" >2021</text>
<line x1="391.58" y1="442.50" x2="391.58" y2="445.30" stroke="#555" stroke-width="0.8" />
<text x="391.78" y="452.07" font-family="Liberation Sans, sans-serif" font-size="7.7" fill="#555" text-anchor="middle" textLength="13.40" lengthAdjust="spacingAndGlyphs" >2022</text>
<line x1="409.09" y1="442.50" x2="409.09" y2="445.30" stroke="#555" stroke-width="0.8" />
<text x="409.29" y="452.07" font-family="Liberation Sans, sans-serif" font-size="7.7" fill="#555" text-anchor="middle" textLength="13.40" lengthAdjust="spacingAndGlyphs" >2023</text>
<g><text transform="translate(209.90 380.95) rotate(-90)" font-family="Liberation Sans, sans-serif" font-size="9.3" fill="#444" text-anchor="middle" textLength="103.59" lengthAdjust="spacingAndGlyphs">OPC - Total Net (M$USD)</text></g>
<rect x="494.75" y="319.40" width="172.15" height="123.10" fill="url(#plot)" />
<line x1="494.75" y1="430.19" x2="666.90" y2="430.19" stroke="#b2b2b2" stroke-width="0.75" stroke-dasharray="1.9 1.7" />
<line x1="494.75" y1="417.88" x2="666.90" y2="417.88" stroke="#b2b2b2" stroke-width="0.75" stroke-dasharray="1.9 1.7" />
<line x1="494.75" y1="405.57" x2="666.90" y2="405.57" stroke="#b2b2b2" stroke-width="0.75" stroke-dasharray="1.9 1.7" />
<line x1="494.75" y1="393.26" x2="666.90" y2="393.26" stroke="#b2b2b2" stroke-width="0.75" stroke-dasharray="1.9 1.7" />
<line x1="494.75" y1="380.95" x2="666.90" y2="380.95" stroke="#b2b2b2" stroke-width="0.75" stroke-dasharray="1.9 1.7" />
<line x1="494.75" y1="368.64" x2="666.90" y2="368.64" stroke="#b2b2b2" stroke-width="0.75" stroke-dasharray="1.9 1.7" />
<line x1="494.75" y1="356.33" x2="666.90" y2="356.33" stroke="#b2b2b2" stroke-width="0.75" stroke-dasharray="1.9 1.7" />
<line x1="494.75" y1="344.02" x2="666.90" y2="344.02" stroke="#b2b2b2" stroke-width="0.75" stroke-dasharray="1.9 1.7" />
<line x1="494.75" y1="331.71" x2="666.90" y2="331.71" stroke="#b2b2b2" stroke-width="0.75" stroke-dasharray="1.9 1.7" />
<line x1="494.75" y1="319.40" x2="666.90" y2="319.40" stroke="#b2b2b2" stroke-width="0.75" stroke-dasharray="1.9 1.7" />
<line x1="501.50" y1="319.40" x2="501.50" y2="442.50" stroke="#b2b2b2" stroke-width="0.75" stroke-dasharray="1.9 1.7" />
<line x1="519.01" y1="319.40" x2="519.01" y2="442.50" stroke="#b2b2b2" stroke-width="0.75" stroke-dasharray="1.9 1.7" />
<line x1="536.52" y1="319.40" x2="536.52" y2="442.50" stroke="#b2b2b2" stroke-width="0.75" stroke-dasharray="1.9 1.7" />
<line x1="554.03" y1="319.40" x2="554.03" y2="442.50" stroke="#b2b2b2" stroke-width="0.75" stroke-dasharray="1.9 1.7" />
<line x1="571.54" y1="319.40" x2="571.54" y2="442.50" stroke="#b2b2b2" stroke-width="0.75" stroke-dasharray="1.9 1.7" />
<line x1="589.05" y1="319.40" x2="589.05" y2="442.50" stroke="#b2b2b2" stroke-width="0.75" stroke-dasharray="1.9 1.7" />
<line x1="606.56" y1="319.40" x2="606.56" y2="442.50" stroke="#b2b2b2" stroke-width="0.75" stroke-dasharray="1.9 1.7" />
<line x1="624.07" y1="319.40" x2="624.07" y2="442.50" stroke="#b2b2b2" stroke-width="0.75" stroke-dasharray="1.9 1.7" />
<line x1="641.58" y1="319.40" x2="641.58" y2="442.50" stroke="#b2b2b2" stroke-width="0.75" stroke-dasharray="1.9 1.7" />
<line x1="659.09" y1="319.40" x2="659.09" y2="442.50" stroke="#b2b2b2" stroke-width="0.75" stroke-dasharray="1.9 1.7" />
<rect x="496.10" y="379.97" width="10.80" height="62.53" fill="url(#gred)" />
<rect x="513.61" y="358.15" width="10.80" height="84.35" fill="url(#gred)" />
<rect x="531.12" y="367.78" width="10.80" height="74.72" fill="url(#gred)" />
<rect x="548.63" y="378.00" width="10.80" height="64.50" fill="url(#gred)" />
<rect x="566.14" y="387.11" width="10.80" height="55.39" fill="url(#gred)" />
<rect x="583.65" y="403.11" width="10.80" height="39.39" fill="url(#gred)" />
<rect x="601.16" y="413.94" width="10.80" height="28.56" fill="url(#gred)" />
<rect x="618.67" y="394.49" width="10.80" height="48.01" fill="url(#gred)" />
<rect x="636.18" y="388.83" width="10.80" height="53.67" fill="url(#gred)" />
<rect x="653.69" y="382.92" width="10.80" height="59.58" fill="url(#gred)" />
<line x1="494.75" y1="319.10" x2="494.75" y2="443.00" stroke="#555" stroke-width="1.15" />
<line x1="494.25" y1="442.85" x2="666.90" y2="442.85" stroke="#505050" stroke-width="1.0" />
<line x1="491.75" y1="442.50" x2="494.75" y2="442.50" stroke="#555" stroke-width="0.8" />
<text x="489.95" y="445.17" font-family="Liberation Sans, sans-serif" font-size="7.7" fill="#555" text-anchor="end" textLength="3.38" lengthAdjust="spacingAndGlyphs" >0</text>
<line x1="491.75" y1="430.19" x2="494.75" y2="430.19" stroke="#555" stroke-width="0.8" />
<text x="489.95" y="432.86" font-family="Liberation Sans, sans-serif" font-size="7.7" fill="#555" text-anchor="end" textLength="18.61" lengthAdjust="spacingAndGlyphs" >50,000</text>
<line x1="491.75" y1="417.88" x2="494.75" y2="417.88" stroke="#555" stroke-width="0.8" />
<text x="489.95" y="420.55" font-family="Liberation Sans, sans-serif" font-size="7.7" fill="#555" text-anchor="end" textLength="21.99" lengthAdjust="spacingAndGlyphs" >100,000</text>
<line x1="491.75" y1="405.57" x2="494.75" y2="405.57" stroke="#555" stroke-width="0.8" />
<text x="489.95" y="408.24" font-family="Liberation Sans, sans-serif" font-size="7.7" fill="#555" text-anchor="end" textLength="21.99" lengthAdjust="spacingAndGlyphs" >150,000</text>
<line x1="491.75" y1="393.26" x2="494.75" y2="393.26" stroke="#555" stroke-width="0.8" />
<text x="489.95" y="395.93" font-family="Liberation Sans, sans-serif" font-size="7.7" fill="#555" text-anchor="end" textLength="21.99" lengthAdjust="spacingAndGlyphs" >200,000</text>
<line x1="491.75" y1="380.95" x2="494.75" y2="380.95" stroke="#555" stroke-width="0.8" />
<text x="489.95" y="383.62" font-family="Liberation Sans, sans-serif" font-size="7.7" fill="#555" text-anchor="end" textLength="21.99" lengthAdjust="spacingAndGlyphs" >250,000</text>
<line x1="491.75" y1="368.64" x2="494.75" y2="368.64" stroke="#555" stroke-width="0.8" />
<text x="489.95" y="371.31" font-family="Liberation Sans, sans-serif" font-size="7.7" fill="#555" text-anchor="end" textLength="21.99" lengthAdjust="spacingAndGlyphs" >300,000</text>
<line x1="491.75" y1="356.33" x2="494.75" y2="356.33" stroke="#555" stroke-width="0.8" />
<text x="489.95" y="359.00" font-family="Liberation Sans, sans-serif" font-size="7.7" fill="#555" text-anchor="end" textLength="21.99" lengthAdjust="spacingAndGlyphs" >350,000</text>
<line x1="491.75" y1="344.02" x2="494.75" y2="344.02" stroke="#555" stroke-width="0.8" />
<text x="489.95" y="346.69" font-family="Liberation Sans, sans-serif" font-size="7.7" fill="#555" text-anchor="end" textLength="21.99" lengthAdjust="spacingAndGlyphs" >400,000</text>
<line x1="491.75" y1="331.71" x2="494.75" y2="331.71" stroke="#555" stroke-width="0.8" />
<text x="489.95" y="334.38" font-family="Liberation Sans, sans-serif" font-size="7.7" fill="#555" text-anchor="end" textLength="21.99" lengthAdjust="spacingAndGlyphs" >450,000</text>
<line x1="491.75" y1="319.40" x2="494.75" y2="319.40" stroke="#555" stroke-width="0.8" />
<text x="489.95" y="322.07" font-family="Liberation Sans, sans-serif" font-size="7.7" fill="#555" text-anchor="end" textLength="21.99" lengthAdjust="spacingAndGlyphs" >500,000</text>
<line x1="501.50" y1="442.50" x2="501.50" y2="445.30" stroke="#555" stroke-width="0.8" />
<text x="501.70" y="452.07" font-family="Liberation Sans, sans-serif" font-size="7.7" fill="#555" text-anchor="middle" textLength="13.40" lengthAdjust="spacingAndGlyphs" >2014</text>
<line x1="519.01" y1="442.50" x2="519.01" y2="445.30" stroke="#555" stroke-width="0.8" />
<text x="519.21" y="452.07" font-family="Liberation Sans, sans-serif" font-size="7.7" fill="#555" text-anchor="middle" textLength="13.40" lengthAdjust="spacingAndGlyphs" >2015</text>
<line x1="536.52" y1="442.50" x2="536.52" y2="445.30" stroke="#555" stroke-width="0.8" />
<text x="536.72" y="452.07" font-family="Liberation Sans, sans-serif" font-size="7.7" fill="#555" text-anchor="middle" textLength="13.40" lengthAdjust="spacingAndGlyphs" >2016</text>
<line x1="554.03" y1="442.50" x2="554.03" y2="445.30" stroke="#555" stroke-width="0.8" />
<text x="554.23" y="452.07" font-family="Liberation Sans, sans-serif" font-size="7.7" fill="#555" text-anchor="middle" textLength="13.40" lengthAdjust="spacingAndGlyphs" >2017</text>
<line x1="571.54" y1="442.50" x2="571.54" y2="445.30" stroke="#555" stroke-width="0.8" />
<text x="571.74" y="452.07" font-family="Liberation Sans, sans-serif" font-size="7.7" fill="#555" text-anchor="middle" textLength="13.40" lengthAdjust="spacingAndGlyphs" >2018</text>
<line x1="589.05" y1="442.50" x2="589.05" y2="445.30" stroke="#555" stroke-width="0.8" />
<text x="589.25" y="452.07" font-family="Liberation Sans, sans-serif" font-size="7.7" fill="#555" text-anchor="middle" textLength="13.40" lengthAdjust="spacingAndGlyphs" >2019</text>
<line x1="606.56" y1="442.50" x2="606.56" y2="445.30" stroke="#555" stroke-width="0.8" />
<text x="606.76" y="452.07" font-family="Liberation Sans, sans-serif" font-size="7.7" fill="#555" text-anchor="middle" textLength="13.40" lengthAdjust="spacingAndGlyphs" >2020</text>
<line x1="624.07" y1="442.50" x2="624.07" y2="445.30" stroke="#555" stroke-width="0.8" />
<text x="624.27" y="452.07" font-family="Liberation Sans, sans-serif" font-size="7.7" fill="#555" text-anchor="middle" textLength="13.40" lengthAdjust="spacingAndGlyphs" >2021</text>
<line x1="641.58" y1="442.50" x2="641.58" y2="445.30" stroke="#555" stroke-width="0.8" />
<text x="641.78" y="452.07" font-family="Liberation Sans, sans-serif" font-size="7.7" fill="#555" text-anchor="middle" textLength="13.40" lengthAdjust="spacingAndGlyphs" >2022</text>
<line x1="659.09" y1="442.50" x2="659.09" y2="445.30" stroke="#555" stroke-width="0.8" />
<text x="659.29" y="452.07" font-family="Liberation Sans, sans-serif" font-size="7.7" fill="#555" text-anchor="middle" textLength="13.40" lengthAdjust="spacingAndGlyphs" >2023</text>
<clipPath id="clip494"><rect x="446.55" y="297.8" width="20" height="300"/></clipPath>
<g clip-path="url(#clip494)"><text transform="translate(459.90 380.95) rotate(-90)" font-family="Liberation Sans, sans-serif" font-size="9.3" fill="#444" text-anchor="middle" textLength="168.00" lengthAdjust="spacingAndGlyphs">CAP - Total Unrisk Capital Net (M$USD)</text></g>
<rect x="745.40" y="319.40" width="172.10" height="123.10" fill="url(#plot)" />
<line x1="745.40" y1="430.19" x2="917.50" y2="430.19" stroke="#b2b2b2" stroke-width="0.75" stroke-dasharray="1.9 1.7" />
<line x1="745.40" y1="417.88" x2="917.50" y2="417.88" stroke="#b2b2b2" stroke-width="0.75" stroke-dasharray="1.9 1.7" />
<line x1="745.40" y1="405.57" x2="917.50" y2="405.57" stroke="#b2b2b2" stroke-width="0.75" stroke-dasharray="1.9 1.7" />
<line x1="745.40" y1="393.26" x2="917.50" y2="393.26" stroke="#b2b2b2" stroke-width="0.75" stroke-dasharray="1.9 1.7" />
<line x1="745.40" y1="380.95" x2="917.50" y2="380.95" stroke="#b2b2b2" stroke-width="0.75" stroke-dasharray="1.9 1.7" />
<line x1="745.40" y1="368.64" x2="917.50" y2="368.64" stroke="#b2b2b2" stroke-width="0.75" stroke-dasharray="1.9 1.7" />
<line x1="745.40" y1="356.33" x2="917.50" y2="356.33" stroke="#b2b2b2" stroke-width="0.75" stroke-dasharray="1.9 1.7" />
<line x1="745.40" y1="344.02" x2="917.50" y2="344.02" stroke="#b2b2b2" stroke-width="0.75" stroke-dasharray="1.9 1.7" />
<line x1="745.40" y1="331.71" x2="917.50" y2="331.71" stroke="#b2b2b2" stroke-width="0.75" stroke-dasharray="1.9 1.7" />
<line x1="745.40" y1="319.40" x2="917.50" y2="319.40" stroke="#b2b2b2" stroke-width="0.75" stroke-dasharray="1.9 1.7" />
<line x1="752.50" y1="319.40" x2="752.50" y2="442.50" stroke="#b2b2b2" stroke-width="0.75" stroke-dasharray="1.9 1.7" />
<line x1="769.97" y1="319.40" x2="769.97" y2="442.50" stroke="#b2b2b2" stroke-width="0.75" stroke-dasharray="1.9 1.7" />
<line x1="787.44" y1="319.40" x2="787.44" y2="442.50" stroke="#b2b2b2" stroke-width="0.75" stroke-dasharray="1.9 1.7" />
<line x1="804.91" y1="319.40" x2="804.91" y2="442.50" stroke="#b2b2b2" stroke-width="0.75" stroke-dasharray="1.9 1.7" />
<line x1="822.38" y1="319.40" x2="822.38" y2="442.50" stroke="#b2b2b2" stroke-width="0.75" stroke-dasharray="1.9 1.7" />
<line x1="839.85" y1="319.40" x2="839.85" y2="442.50" stroke="#b2b2b2" stroke-width="0.75" stroke-dasharray="1.9 1.7" />
<line x1="857.32" y1="319.40" x2="857.32" y2="442.50" stroke="#b2b2b2" stroke-width="0.75" stroke-dasharray="1.9 1.7" />
<line x1="874.79" y1="319.40" x2="874.79" y2="442.50" stroke="#b2b2b2" stroke-width="0.75" stroke-dasharray="1.9 1.7" />
<line x1="892.26" y1="319.40" x2="892.26" y2="442.50" stroke="#b2b2b2" stroke-width="0.75" stroke-dasharray="1.9 1.7" />
<line x1="909.73" y1="319.40" x2="909.73" y2="442.50" stroke="#b2b2b2" stroke-width="0.75" stroke-dasharray="1.9 1.7" />
<rect x="747.10" y="403.11" width="10.80" height="39.39" fill="url(#gteal)" />
<rect x="764.57" y="395.38" width="10.80" height="47.12" fill="url(#gteal)" />
<rect x="782.04" y="371.20" width="10.80" height="71.30" fill="url(#gteal)" />
<rect x="799.51" y="355.05" width="10.80" height="87.45" fill="url(#gteal)" />
<rect x="816.98" y="345.74" width="10.80" height="96.76" fill="url(#gteal)" />
<rect x="834.45" y="326.29" width="10.80" height="116.21" fill="url(#gteal)" />
<rect x="851.92" y="332.45" width="10.80" height="110.05" fill="url(#gteal)" />
<rect x="869.39" y="375.83" width="10.80" height="66.67" fill="url(#gteal)" />
<rect x="886.86" y="366.18" width="10.80" height="76.32" fill="url(#gteal)" />
<rect x="904.33" y="365.00" width="10.80" height="77.50" fill="url(#gteal)" />
<line x1="745.40" y1="319.10" x2="745.40" y2="443.00" stroke="#555" stroke-width="1.15" />
<line x1="744.90" y1="442.85" x2="917.50" y2="442.85" stroke="#505050" stroke-width="1.0" />
<line x1="742.40" y1="442.50" x2="745.40" y2="442.50" stroke="#555" stroke-width="0.8" />
<text x="740.60" y="445.17" font-family="Liberation Sans, sans-serif" font-size="7.7" fill="#555" text-anchor="end" textLength="3.38" lengthAdjust="spacingAndGlyphs" >0</text>
<line x1="742.40" y1="430.19" x2="745.40" y2="430.19" stroke="#555" stroke-width="0.8" />
<text x="740.60" y="432.86" font-family="Liberation Sans, sans-serif" font-size="7.7" fill="#555" text-anchor="end" textLength="18.61" lengthAdjust="spacingAndGlyphs" >25,000</text>
<line x1="742.40" y1="417.88" x2="745.40" y2="417.88" stroke="#555" stroke-width="0.8" />
<text x="740.60" y="420.55" font-family="Liberation Sans, sans-serif" font-size="7.7" fill="#555" text-anchor="end" textLength="18.61" lengthAdjust="spacingAndGlyphs" >50,000</text>
<line x1="742.40" y1="405.57" x2="745.40" y2="405.57" stroke="#555" stroke-width="0.8" />
<text x="740.60" y="408.24" font-family="Liberation Sans, sans-serif" font-size="7.7" fill="#555" text-anchor="end" textLength="18.61" lengthAdjust="spacingAndGlyphs" >75,000</text>
<line x1="742.40" y1="393.26" x2="745.40" y2="393.26" stroke="#555" stroke-width="0.8" />
<text x="740.60" y="395.93" font-family="Liberation Sans, sans-serif" font-size="7.7" fill="#555" text-anchor="end" textLength="21.99" lengthAdjust="spacingAndGlyphs" >100,000</text>
<line x1="742.40" y1="380.95" x2="745.40" y2="380.95" stroke="#555" stroke-width="0.8" />
<text x="740.60" y="383.62" font-family="Liberation Sans, sans-serif" font-size="7.7" fill="#555" text-anchor="end" textLength="21.99" lengthAdjust="spacingAndGlyphs" >125,000</text>
<line x1="742.40" y1="368.64" x2="745.40" y2="368.64" stroke="#555" stroke-width="0.8" />
<text x="740.60" y="371.31" font-family="Liberation Sans, sans-serif" font-size="7.7" fill="#555" text-anchor="end" textLength="21.99" lengthAdjust="spacingAndGlyphs" >150,000</text>
<line x1="742.40" y1="356.33" x2="745.40" y2="356.33" stroke="#555" stroke-width="0.8" />
<text x="740.60" y="359.00" font-family="Liberation Sans, sans-serif" font-size="7.7" fill="#555" text-anchor="end" textLength="21.99" lengthAdjust="spacingAndGlyphs" >175,000</text>
<line x1="742.40" y1="344.02" x2="745.40" y2="344.02" stroke="#555" stroke-width="0.8" />
<text x="740.60" y="346.69" font-family="Liberation Sans, sans-serif" font-size="7.7" fill="#555" text-anchor="end" textLength="21.99" lengthAdjust="spacingAndGlyphs" >200,000</text>
<line x1="742.40" y1="331.71" x2="745.40" y2="331.71" stroke="#555" stroke-width="0.8" />
<text x="740.60" y="334.38" font-family="Liberation Sans, sans-serif" font-size="7.7" fill="#555" text-anchor="end" textLength="21.99" lengthAdjust="spacingAndGlyphs" >225,000</text>
<line x1="742.40" y1="319.40" x2="745.40" y2="319.40" stroke="#555" stroke-width="0.8" />
<text x="740.60" y="322.07" font-family="Liberation Sans, sans-serif" font-size="7.7" fill="#555" text-anchor="end" textLength="21.99" lengthAdjust="spacingAndGlyphs" >250,000</text>
<line x1="752.50" y1="442.50" x2="752.50" y2="445.30" stroke="#555" stroke-width="0.8" />
<text x="752.70" y="452.07" font-family="Liberation Sans, sans-serif" font-size="7.7" fill="#555" text-anchor="middle" textLength="13.40" lengthAdjust="spacingAndGlyphs" >2014</text>
<line x1="769.97" y1="442.50" x2="769.97" y2="445.30" stroke="#555" stroke-width="0.8" />
<text x="770.17" y="452.07" font-family="Liberation Sans, sans-serif" font-size="7.7" fill="#555" text-anchor="middle" textLength="13.40" lengthAdjust="spacingAndGlyphs" >2015</text>
<line x1="787.44" y1="442.50" x2="787.44" y2="445.30" stroke="#555" stroke-width="0.8" />
<text x="787.64" y="452.07" font-family="Liberation Sans, sans-serif" font-size="7.7" fill="#555" text-anchor="middle" textLength="13.40" lengthAdjust="spacingAndGlyphs" >2016</text>
<line x1="804.91" y1="442.50" x2="804.91" y2="445.30" stroke="#555" stroke-width="0.8" />
<text x="805.11" y="452.07" font-family="Liberation Sans, sans-serif" font-size="7.7" fill="#555" text-anchor="middle" textLength="13.40" lengthAdjust="spacingAndGlyphs" >2017</text>
<line x1="822.38" y1="442.50" x2="822.38" y2="445.30" stroke="#555" stroke-width="0.8" />
<text x="822.58" y="452.07" font-family="Liberation Sans, sans-serif" font-size="7.7" fill="#555" text-anchor="middle" textLength="13.40" lengthAdjust="spacingAndGlyphs" >2018</text>
<line x1="839.85" y1="442.50" x2="839.85" y2="445.30" stroke="#555" stroke-width="0.8" />
<text x="840.05" y="452.07" font-family="Liberation Sans, sans-serif" font-size="7.7" fill="#555" text-anchor="middle" textLength="13.40" lengthAdjust="spacingAndGlyphs" >2019</text>
<line x1="857.32" y1="442.50" x2="857.32" y2="445.30" stroke="#555" stroke-width="0.8" />
<text x="857.52" y="452.07" font-family="Liberation Sans, sans-serif" font-size="7.7" fill="#555" text-anchor="middle" textLength="13.40" lengthAdjust="spacingAndGlyphs" >2020</text>
<line x1="874.79" y1="442.50" x2="874.79" y2="445.30" stroke="#555" stroke-width="0.8" />
<text x="874.99" y="452.07" font-family="Liberation Sans, sans-serif" font-size="7.7" fill="#555" text-anchor="middle" textLength="13.40" lengthAdjust="spacingAndGlyphs" >2021</text>
<line x1="892.26" y1="442.50" x2="892.26" y2="445.30" stroke="#555" stroke-width="0.8" />
<text x="892.46" y="452.07" font-family="Liberation Sans, sans-serif" font-size="7.7" fill="#555" text-anchor="middle" textLength="13.40" lengthAdjust="spacingAndGlyphs" >2022</text>
<line x1="909.73" y1="442.50" x2="909.73" y2="445.30" stroke="#555" stroke-width="0.8" />
<text x="909.93" y="452.07" font-family="Liberation Sans, sans-serif" font-size="7.7" fill="#555" text-anchor="middle" textLength="13.40" lengthAdjust="spacingAndGlyphs" >2023</text>
<g><text transform="translate(710.55 380.95) rotate(-90)" font-family="Liberation Sans, sans-serif" font-size="9.3" fill="#444" text-anchor="middle" textLength="142.54" lengthAdjust="spacingAndGlyphs">CF - BTax Cash Flow Net (M$USD)</text></g>
</svg>
</body></html>
